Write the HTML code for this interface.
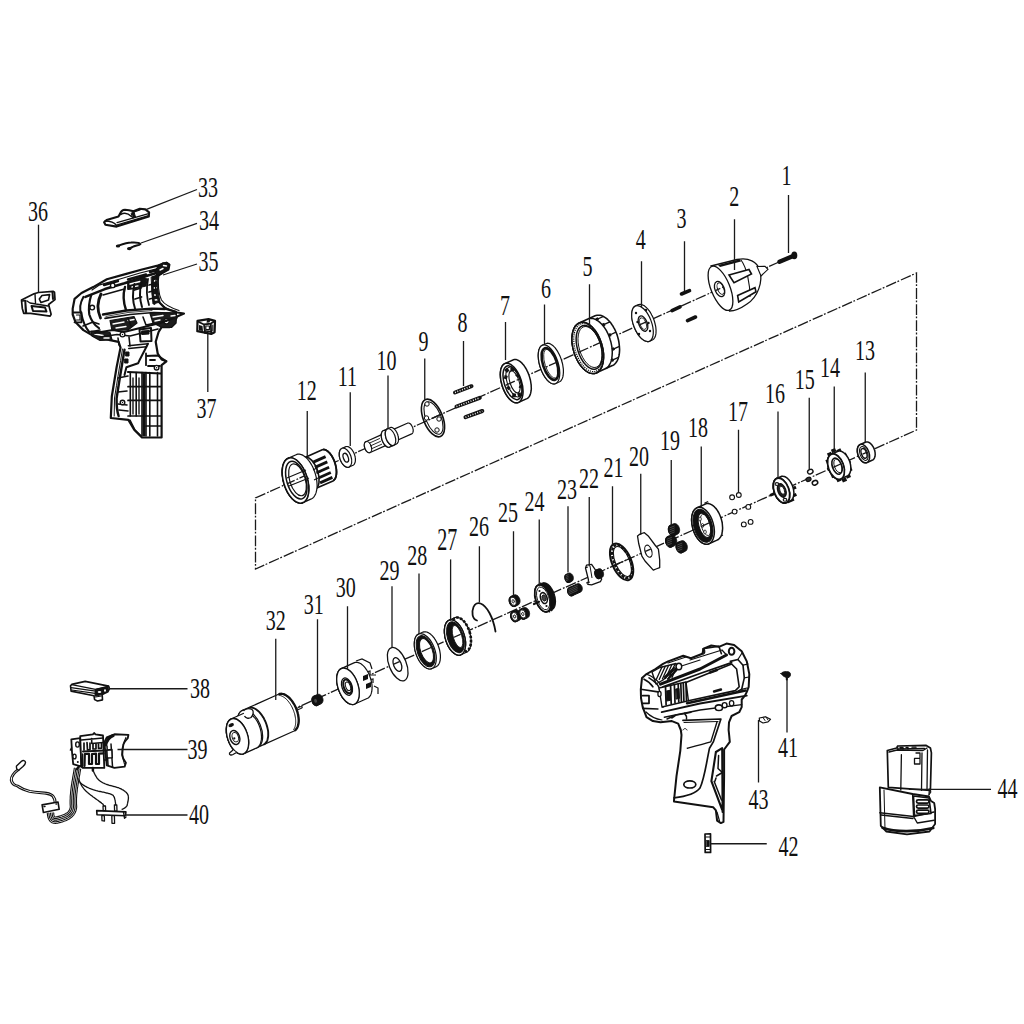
<!DOCTYPE html><html><head><meta charset="utf-8"><style>html,body{margin:0;padding:0;background:#fff;width:1024px;height:1024px;overflow:hidden}svg{display:block}text{font-family:"Liberation Serif",serif;fill:#111}</style></head><body>
<svg width="1024" height="1024" viewBox="0 0 1024 1024">
<rect width="1024" height="1024" fill="#fff"/>
<g fill="none" stroke="#1a1a1a" stroke-width="1.3" stroke-dasharray="10.8 1.5 1.8 2">
<path d="M779,262 L255.5,498 L255.5,569 L916.5,273 L916.5,430 L296,708"/>
</g>
<g><path d="M300.8,466.4 L300.9,465.4 L300.9,464.5 L301,463.6 L301.2,462.7 L301.4,461.9 L301.6,461.2 L301.9,460.5 L302.2,459.8 L302.6,459.3 L303,458.8 L303.4,458.3 L303.9,458 L304.4,457.7 L321.7,449.9 L322.2,449.7 L322.8,449.6 L323.3,449.5 L323.9,449.5 L324.5,449.6 L325.1,449.8 L325.8,450 L326.4,450.4 L327,450.8 L327.7,451.2 L328.3,451.8 L329,452.4 L329.6,453 L330.2,453.8 L330.8,454.6 L331.4,455.4 L331.9,456.3 L332.5,457.2 L333,458.2 L333.5,459.2 L333.9,460.2 L334.4,461.3 L334.8,462.4 L335.1,463.5 L335.4,464.6 L335.7,465.7 L336,466.8 L336.1,467.9 L336.3,469 L336.4,470 L336.5,471.1 L336.5,472.1 L336.5,473.1 L336.4,474 L336.3,475 L336.1,475.8 L335.9,476.6 L335.7,477.4 L335.4,478.1 L335.1,478.7 L334.7,479.3 L334.3,479.8 L333.9,480.2 L333.4,480.6 L333,480.9 L315.6,488.6 L315.1,488.8 L314.6,489 L314,489 L313.4,489 L312.8,488.9 L312.2,488.7 L311.6,488.5 L310.9,488.2 L310.3,487.8 L309.7,487.3 L309,486.8 L308.4,486.2 L307.8,485.5 L307.1,484.8 L306.5,484 L306,483.1 L305.4,482.3 L304.9,481.3 L304.3,480.4 L303.9,479.4 L303.4,478.3 L303,477.3 L302.6,476.2 L302.2,475.1 L301.9,474 L301.6,472.9 L301.4,471.8 L301.2,470.7 L301,469.6 L300.9,468.5 L300.9,467.5Z" fill="#fff" stroke="#111" stroke-width="1.6" stroke-linejoin="round"/><ellipse cx="310" cy="473.2" rx="8" ry="16.5" transform="rotate(-18 310 473.2)" fill="#fff" stroke="#111" stroke-width="1.6" /><line x1="313.3" y1="462.1" x2="325.6" y2="456.6" stroke="#111" stroke-width="2.8"/><line x1="315" y1="467.4" x2="327.3" y2="461.9" stroke="#111" stroke-width="2.8"/><line x1="316.7" y1="472.7" x2="329.1" y2="467.2" stroke="#111" stroke-width="2.8"/><line x1="318.5" y1="478.1" x2="330.8" y2="472.5" stroke="#111" stroke-width="2.8"/><line x1="320.1" y1="482.9" x2="332.4" y2="477.4" stroke="#111" stroke-width="2.8"/><path d="M333.7,480.4 L334.1,480 L334.5,479.5 L334.9,479 L335.3,478.4 L335.6,477.7 L335.8,477 L336,476.2 L336.2,475.4 L336.4,474.5 L336.4,473.6 L336.5,472.6 L336.5,471.6 L336.4,470.6 L336.4,469.5 L336.2,468.4 L336.1,467.3 L335.8,466.2 L335.6,465.1 L335.3,464 L334.9,462.9 L334.6,461.8 L334.2,460.7 L333.7,459.7 L333.2,458.7 L332.7,457.7 L332.2,456.7 L331.7,455.8 L331.1,455 L330.5,454.2 L329.9,453.4 L329.3,452.7 L328.6,452.1 L328,451.5 L327.4,451 L326.7,450.6 L326.1,450.2 L325.5,449.9 L324.8,449.7 L324.2,449.6 L323.6,449.5" fill="none" stroke="#111" stroke-width="1.8" stroke-linecap="round"/><path d="M282.1,472.3 L282.2,470.9 L282.2,469.5 L282.4,468.1 L282.6,466.8 L282.9,465.6 L283.2,464.5 L283.6,463.4 L284.1,462.4 L284.6,461.5 L285.1,460.7 L285.8,460 L286.4,459.3 L287.1,458.8 L287.9,458.4 L296.1,454.7 L296.9,454.4 L297.7,454.2 L298.5,454.2 L299.4,454.2 L300.3,454.3 L301.2,454.6 L302.1,454.9 L303.1,455.4 L304,456 L304.9,456.7 L305.8,457.4 L306.8,458.3 L307.7,459.2 L308.5,460.3 L309.4,461.4 L310.2,462.6 L311,463.9 L311.8,465.2 L312.5,466.6 L313.2,468 L313.8,469.5 L314.4,471 L314.9,472.5 L315.4,474.1 L315.8,475.7 L316.2,477.2 L316.5,478.8 L316.7,480.4 L316.9,481.9 L317,483.5 L317.1,485 L317.1,486.4 L317,487.8 L316.8,489.2 L316.6,490.5 L316.3,491.7 L316,492.9 L315.6,493.9 L315.1,494.9 L314.6,495.8 L314.1,496.6 L313.5,497.4 L312.8,498 L312.1,498.5 L311.3,498.9 L303.1,502.6 L302.3,502.9 L301.5,503.1 L300.7,503.1 L299.8,503.1 L298.9,503 L298,502.7 L297.1,502.4 L296.2,501.9 L295.2,501.3 L294.3,500.7 L293.4,499.9 L292.4,499 L291.5,498.1 L290.7,497 L289.8,495.9 L289,494.7 L288.2,493.5 L287.4,492.1 L286.7,490.8 L286,489.3 L285.4,487.8 L284.8,486.3 L284.3,484.8 L283.8,483.2 L283.4,481.7 L283,480.1 L282.7,478.5 L282.5,476.9 L282.3,475.4 L282.2,473.8Z" fill="#fff" stroke="#111" stroke-width="1.2" stroke-linejoin="round"/><ellipse cx="295.5" cy="480.5" rx="12" ry="23.4" transform="rotate(-17 295.5 480.5)" fill="#fff" stroke="#111" stroke-width="1.2" /><ellipse cx="295.5" cy="480.5" rx="12" ry="23.4" transform="rotate(-17 295.5 480.5)" fill="#fff" stroke="#111" stroke-width="1.6" /><ellipse cx="296.3" cy="480.2" rx="9.5" ry="19.5" transform="rotate(-17 296.3 480.2)" fill="none" stroke="#111" stroke-width="1.5" /><ellipse cx="297.5" cy="479.8" rx="7.8" ry="16.5" transform="rotate(-17 297.5 479.8)" fill="none" stroke="#111" stroke-width="1.2" /><path d="M287,478 L306,470 M289,486 L309,478" stroke="#111" stroke-width="1.1" fill="none"/><path d="M313,470 l4,-2 l0,5 l4,-1.5 M314,480 l4,-2" stroke="#111" stroke-width="1.1" fill="none"/></g>
<path d="M339.2,454.1 L339.2,453.5 L339.3,452.9 L339.4,452.3 L339.5,451.8 L339.6,451.3 L339.8,450.8 L340,450.3 L340.2,449.9 L340.5,449.6 L340.8,449.2 L341.1,448.9 L341.4,448.7 L341.7,448.5 L345.4,446.9 L345.7,446.7 L346.1,446.6 L346.5,446.5 L346.9,446.5 L347.3,446.5 L347.7,446.6 L348.2,446.7 L348.6,446.9 L349,447.1 L349.5,447.4 L349.9,447.7 L350.3,448 L350.8,448.4 L351.2,448.8 L351.6,449.3 L352,449.7 L352.4,450.3 L352.7,450.8 L353.1,451.4 L353.4,452 L353.7,452.6 L354,453.2 L354.3,453.9 L354.5,454.5 L354.7,455.2 L354.9,455.8 L355.1,456.5 L355.2,457.2 L355.3,457.8 L355.4,458.5 L355.4,459.1 L355.4,459.8 L355.4,460.4 L355.3,461 L355.3,461.5 L355.2,462.1 L355,462.6 L354.8,463.1 L354.6,463.5 L354.4,463.9 L354.2,464.3 L353.9,464.6 L353.6,464.9 L353.3,465.1 L352.9,465.3 L349.3,467 L348.9,467.1 L348.5,467.2 L348.2,467.3 L347.8,467.3 L347.3,467.3 L346.9,467.2 L346.5,467.1 L346,466.9 L345.6,466.7 L345.2,466.5 L344.7,466.2 L344.3,465.8 L343.9,465.4 L343.5,465 L343,464.6 L342.7,464.1 L342.3,463.6 L341.9,463 L341.6,462.5 L341.2,461.9 L340.9,461.3 L340.6,460.6 L340.4,460 L340.1,459.3 L339.9,458.7 L339.7,458 L339.6,457.3 L339.4,456.7 L339.3,456 L339.3,455.3 L339.2,454.7Z" fill="#fff" stroke="#111" stroke-width="1.2" stroke-linejoin="round"/><ellipse cx="345.5" cy="457.7" rx="5.6" ry="10" transform="rotate(-20 345.5 457.7)" fill="#fff" stroke="#111" stroke-width="1.2" /><ellipse cx="345.8" cy="457.7" rx="2.4" ry="4.6" transform="rotate(-20 345.8 457.7)" fill="#fff" stroke="#111" stroke-width="1.3" />
<path d="M364.3,445 L364.3,444.7 L364.4,444.3 L364.4,444 L364.5,443.7 L364.6,443.4 L364.7,443.1 L364.8,442.9 L364.9,442.6 L365.1,442.4 L365.2,442.2 L365.4,442 L365.6,441.9 L365.8,441.8 L382.2,434.4 L382.4,434.3 L382.7,434.3 L382.9,434.2 L383.1,434.2 L383.4,434.2 L383.6,434.3 L383.9,434.3 L384.1,434.4 L384.4,434.6 L384.6,434.7 L384.9,434.9 L385.2,435.1 L385.4,435.3 L385.6,435.5 L385.9,435.8 L386.1,436.1 L386.3,436.4 L386.6,436.7 L386.8,437 L387,437.4 L387.1,437.7 L387.3,438.1 L387.5,438.5 L387.6,438.8 L387.7,439.2 L387.8,439.6 L387.9,440 L388,440.4 L388,440.8 L388.1,441.2 L388.1,441.5 L388.1,441.9 L388.1,442.2 L388.1,442.6 L388,442.9 L387.9,443.2 L387.9,443.5 L387.7,443.8 L387.6,444.1 L387.5,444.3 L387.3,444.5 L387.2,444.7 L387,444.9 L386.8,445 L386.6,445.1 L370.2,452.5 L370,452.6 L369.8,452.7 L369.5,452.7 L369.3,452.7 L369.1,452.7 L368.8,452.7 L368.6,452.6 L368.3,452.5 L368,452.4 L367.8,452.2 L367.5,452 L367.3,451.8 L367,451.6 L366.8,451.4 L366.5,451.1 L366.3,450.8 L366.1,450.5 L365.9,450.2 L365.7,449.9 L365.5,449.6 L365.3,449.2 L365.1,448.8 L365,448.5 L364.8,448.1 L364.7,447.7 L364.6,447.3 L364.5,446.9 L364.4,446.5 L364.4,446.1 L364.3,445.8 L364.3,445.4Z" fill="#fff" stroke="#111" stroke-width="1.2" stroke-linejoin="round"/><ellipse cx="368" cy="447.1" rx="3.3" ry="5.8" transform="rotate(-20 368 447.1)" fill="#fff" stroke="#111" stroke-width="1.2" /><line x1="369" y1="443.3" x2="379.9" y2="438.4" stroke="#111" stroke-width="0.9"/><line x1="370" y1="446.1" x2="380.9" y2="441.2" stroke="#111" stroke-width="0.9"/><line x1="371" y1="449" x2="382" y2="444.1" stroke="#111" stroke-width="0.9"/><path d="M390.3,433.4 L390.3,433 L390.4,432.7 L390.4,432.3 L390.5,432 L390.6,431.7 L390.7,431.5 L390.8,431.2 L390.9,431 L391.1,430.7 L391.2,430.6 L391.4,430.4 L391.6,430.2 L391.8,430.1 L407.3,423.2 L407.5,423.1 L407.7,423 L408,423 L408.2,423 L408.5,423 L408.7,423 L409,423.1 L409.2,423.2 L409.5,423.3 L409.7,423.5 L410,423.6 L410.2,423.8 L410.5,424 L410.7,424.3 L411,424.5 L411.2,424.8 L411.4,425.1 L411.6,425.4 L411.8,425.8 L412,426.1 L412.2,426.5 L412.4,426.8 L412.5,427.2 L412.7,427.6 L412.8,428 L412.9,428.4 L413,428.7 L413.1,429.1 L413.1,429.5 L413.2,429.9 L413.2,430.3 L413.2,430.6 L413.2,431 L413.1,431.3 L413.1,431.7 L413,432 L412.9,432.3 L412.8,432.5 L412.7,432.8 L412.6,433 L412.4,433.3 L412.3,433.5 L412.1,433.6 L411.9,433.8 L411.7,433.9 L396.2,440.8 L396,440.9 L395.8,441 L395.5,441 L395.3,441 L395.1,441 L394.8,441 L394.6,440.9 L394.3,440.8 L394,440.7 L393.8,440.6 L393.5,440.4 L393.3,440.2 L393,440 L392.8,439.7 L392.5,439.5 L392.3,439.2 L392.1,438.9 L391.9,438.6 L391.7,438.2 L391.5,437.9 L391.3,437.5 L391.1,437.2 L391,436.8 L390.8,436.4 L390.7,436 L390.6,435.6 L390.5,435.3 L390.4,434.9 L390.4,434.5 L390.3,434.1 L390.3,433.7Z" fill="#fff" stroke="#111" stroke-width="1.2" stroke-linejoin="round"/><ellipse cx="394" cy="435.5" rx="3.3" ry="5.8" transform="rotate(-20 394 435.5)" fill="#fff" stroke="#111" stroke-width="1.2" /><path d="M381.2,435.5 L381.2,435 L381.3,434.5 L381.3,434 L381.4,433.5 L381.5,433.1 L381.7,432.7 L381.8,432.3 L382,431.9 L382.2,431.6 L382.4,431.3 L382.7,431.1 L382.9,430.9 L383.2,430.7 L386.4,429.3 L386.7,429.1 L387,429.1 L387.3,429 L387.6,429 L388,429 L388.3,429.1 L388.7,429.2 L389.1,429.4 L389.4,429.6 L389.8,429.8 L390.2,430.1 L390.5,430.4 L390.9,430.7 L391.2,431.1 L391.6,431.5 L391.9,431.9 L392.3,432.4 L392.6,432.9 L392.9,433.4 L393.2,433.9 L393.4,434.4 L393.7,435 L393.9,435.6 L394.1,436.1 L394.3,436.7 L394.5,437.3 L394.6,437.9 L394.7,438.5 L394.8,439.1 L394.9,439.6 L394.9,440.2 L395,440.7 L395,441.3 L394.9,441.8 L394.9,442.3 L394.8,442.7 L394.7,443.2 L394.5,443.6 L394.4,444 L394.2,444.3 L394,444.6 L393.8,444.9 L393.5,445.2 L393.3,445.4 L393,445.6 L389.8,447 L389.5,447.1 L389.2,447.2 L388.9,447.3 L388.5,447.3 L388.2,447.2 L387.8,447.2 L387.5,447 L387.1,446.9 L386.8,446.7 L386.4,446.5 L386,446.2 L385.7,445.9 L385.3,445.5 L384.9,445.2 L384.6,444.8 L384.3,444.3 L383.9,443.9 L383.6,443.4 L383.3,442.9 L383,442.4 L382.8,441.8 L382.5,441.3 L382.3,440.7 L382.1,440.1 L381.9,439.5 L381.7,439 L381.6,438.4 L381.5,437.8 L381.4,437.2 L381.3,436.6 L381.3,436.1Z" fill="#fff" stroke="#111" stroke-width="1.2" stroke-linejoin="round"/><ellipse cx="386.5" cy="438.8" rx="4.6" ry="8.8" transform="rotate(-20 386.5 438.8)" fill="#fff" stroke="#111" stroke-width="1.2" /><path d="M385.2,433.7 L385.2,433.2 L385.3,432.7 L385.3,432.2 L385.4,431.7 L385.5,431.3 L385.7,430.9 L385.8,430.5 L386,430.1 L386.2,429.8 L386.4,429.5 L386.7,429.3 L386.9,429.1 L387.2,428.9 L389.9,427.7 L390.2,427.6 L390.5,427.5 L390.9,427.4 L391.2,427.4 L391.5,427.4 L391.9,427.5 L392.2,427.6 L392.6,427.8 L393,428 L393.3,428.2 L393.7,428.5 L394.1,428.8 L394.4,429.1 L394.8,429.5 L395.1,429.9 L395.5,430.3 L395.8,430.8 L396.1,431.3 L396.4,431.8 L396.7,432.3 L397,432.8 L397.2,433.4 L397.5,434 L397.7,434.5 L397.9,435.1 L398,435.7 L398.2,436.3 L398.3,436.9 L398.4,437.5 L398.4,438 L398.5,438.6 L398.5,439.1 L398.5,439.7 L398.5,440.2 L398.4,440.7 L398.3,441.1 L398.2,441.6 L398.1,442 L397.9,442.4 L397.7,442.7 L397.5,443.1 L397.3,443.3 L397.1,443.6 L396.8,443.8 L396.5,444 L393.8,445.2 L393.5,445.3 L393.2,445.4 L392.9,445.5 L392.5,445.5 L392.2,445.4 L391.8,445.4 L391.5,445.2 L391.1,445.1 L390.8,444.9 L390.4,444.7 L390,444.4 L389.7,444.1 L389.3,443.8 L388.9,443.4 L388.6,443 L388.3,442.5 L387.9,442.1 L387.6,441.6 L387.3,441.1 L387,440.6 L386.8,440 L386.5,439.5 L386.3,438.9 L386.1,438.3 L385.9,437.8 L385.7,437.2 L385.6,436.6 L385.5,436 L385.4,435.4 L385.3,434.8 L385.3,434.3Z" fill="#fff" stroke="#111" stroke-width="1.2" stroke-linejoin="round"/><ellipse cx="390.5" cy="437.1" rx="4.6" ry="8.8" transform="rotate(-20 390.5 437.1)" fill="#fff" stroke="#111" stroke-width="1.2" />
<ellipse cx="433" cy="418" rx="9.6" ry="19.9" transform="rotate(-22 433 418)" fill="none" stroke="#111" stroke-width="1.6" /><ellipse cx="433.5" cy="418" rx="7.6" ry="17.2" transform="rotate(-22 433.5 418)" fill="none" stroke="#111" stroke-width="1.1" /><circle cx="427" cy="404" r="2.2" fill="#fff" stroke="#111" stroke-width="1"/><circle cx="437" cy="430" r="2.2" fill="#fff" stroke="#111" stroke-width="1"/><circle cx="426.5" cy="418" r="2.2" fill="#fff" stroke="#111" stroke-width="1"/><circle cx="439" cy="419" r="2.2" fill="#fff" stroke="#111" stroke-width="1"/>
<line x1="455" y1="392.5" x2="471.5" y2="386.2" stroke="#111" stroke-width="4" stroke-linecap="round"/><line x1="455" y1="392.5" x2="471.5" y2="386.2" stroke="#fff" stroke-width="1.6" stroke-dasharray="0.9 1.6"/><line x1="456.5" y1="406.5" x2="479.8" y2="397.8" stroke="#111" stroke-width="4" stroke-linecap="round"/><line x1="456.5" y1="406.5" x2="479.8" y2="397.8" stroke="#fff" stroke-width="1.6" stroke-dasharray="0.9 1.6"/><line x1="465.5" y1="417.2" x2="482.3" y2="411" stroke="#111" stroke-width="4" stroke-linecap="round"/><line x1="465.5" y1="417.2" x2="482.3" y2="411" stroke="#fff" stroke-width="1.6" stroke-dasharray="0.9 1.6"/>
<path d="M500.3,374.6 L500.4,373.3 L500.4,372.2 L500.6,371 L500.8,370 L501,368.9 L501.3,368 L501.7,367.1 L502.1,366.3 L502.5,365.6 L503,365 L503.5,364.5 L504.1,364 L504.7,363.7 L512.9,360 L513.5,359.7 L514.2,359.6 L514.9,359.5 L515.6,359.5 L516.4,359.6 L517.2,359.9 L517.9,360.2 L518.7,360.6 L519.5,361.1 L520.3,361.7 L521.1,362.3 L521.9,363.1 L522.6,363.9 L523.4,364.8 L524.2,365.8 L524.9,366.9 L525.6,368 L526.3,369.1 L526.9,370.4 L527.5,371.6 L528.1,372.9 L528.6,374.2 L529.1,375.6 L529.5,376.9 L529.9,378.3 L530.3,379.7 L530.6,381.1 L530.8,382.5 L531,383.8 L531.2,385.2 L531.2,386.5 L531.3,387.7 L531.3,389 L531.2,390.2 L531,391.3 L530.8,392.4 L530.6,393.4 L530.3,394.3 L530,395.2 L529.6,396 L529.1,396.7 L528.6,397.3 L528.1,397.8 L527.5,398.3 L526.9,398.6 L518.7,402.3 L518.1,402.6 L517.4,402.8 L516.7,402.8 L516,402.8 L515.2,402.7 L514.5,402.5 L513.7,402.1 L512.9,401.7 L512.1,401.2 L511.3,400.6 L510.5,400 L509.7,399.2 L509,398.4 L508.2,397.5 L507.5,396.5 L506.7,395.4 L506,394.3 L505.4,393.2 L504.7,392 L504.1,390.7 L503.5,389.4 L503,388.1 L502.5,386.7 L502.1,385.4 L501.7,384 L501.3,382.6 L501,381.2 L500.8,379.9 L500.6,378.5 L500.4,377.2 L500.4,375.9Z" fill="#fff" stroke="#111" stroke-width="1.5" stroke-linejoin="round"/><ellipse cx="511.7" cy="383" rx="9.9" ry="20.6" transform="rotate(-18 511.7 383)" fill="#fff" stroke="#111" stroke-width="1.5" /><ellipse cx="512.5" cy="382.7" rx="8.2" ry="17.6" transform="rotate(-18 512.5 382.7)" fill="#fff" stroke="#111" stroke-width="1.5" /><ellipse cx="514" cy="382" rx="6.8" ry="15.6" transform="rotate(-18 514 382)" fill="none" stroke="#111" stroke-width="1.1" /><line x1="505.6" y1="368.7" x2="508.2" y2="371.7" stroke="#111" stroke-width="3.6"/><line x1="504.2" y1="376.8" x2="507.3" y2="377.7" stroke="#111" stroke-width="3.6"/><line x1="507.3" y1="388.8" x2="509.7" y2="386.9" stroke="#111" stroke-width="3.6"/><line x1="513.7" y1="397.3" x2="514.4" y2="393.4" stroke="#111" stroke-width="3.6"/><line x1="520" y1="396.5" x2="518.8" y2="392.9" stroke="#111" stroke-width="3.6"/><line x1="521.3" y1="387.1" x2="519.6" y2="385.9" stroke="#111" stroke-width="3.6"/><line x1="517.7" y1="375.1" x2="516.8" y2="376.7" stroke="#111" stroke-width="3.6"/><line x1="511.9" y1="367.9" x2="512.6" y2="371.2" stroke="#111" stroke-width="3.6"/><ellipse cx="514.5" cy="381.8" rx="4.6" ry="11.5" transform="rotate(-18 514.5 381.8)" fill="none" stroke="#111" stroke-width="1.1" />
<path d="M538.2,356 L538.2,354.8 L538.3,353.6 L538.4,352.5 L538.6,351.4 L538.8,350.5 L539,349.5 L539.4,348.7 L539.7,347.9 L540.1,347.2 L540.6,346.6 L541,346.1 L541.6,345.7 L542.1,345.3 L545.8,343.7 L546.4,343.5 L547,343.3 L547.7,343.2 L548.3,343.3 L549,343.4 L549.7,343.6 L550.5,344 L551.2,344.4 L552,344.9 L552.7,345.5 L553.5,346.1 L554.2,346.9 L555,347.7 L555.7,348.6 L556.4,349.6 L557.1,350.6 L557.8,351.7 L558.4,352.9 L559,354.1 L559.6,355.3 L560.2,356.6 L560.7,357.9 L561.2,359.2 L561.6,360.6 L562,362 L562.4,363.3 L562.7,364.7 L562.9,366 L563.1,367.4 L563.3,368.7 L563.4,370 L563.4,371.2 L563.4,372.4 L563.3,373.6 L563.2,374.7 L563.1,375.7 L562.9,376.7 L562.6,377.6 L562.3,378.5 L561.9,379.2 L561.5,379.9 L561.1,380.5 L560.6,381.1 L560.1,381.5 L559.5,381.8 L555.9,383.5 L555.3,383.7 L554.6,383.9 L554,383.9 L553.3,383.9 L552.6,383.7 L551.9,383.5 L551.2,383.2 L550.4,382.8 L549.7,382.3 L548.9,381.7 L548.2,381 L547.4,380.3 L546.7,379.4 L546,378.5 L545.3,377.6 L544.6,376.5 L543.9,375.4 L543.2,374.3 L542.6,373.1 L542,371.8 L541.5,370.6 L541,369.2 L540.5,367.9 L540,366.6 L539.6,365.2 L539.3,363.8 L539,362.5 L538.7,361.1 L538.5,359.8 L538.4,358.5 L538.3,357.2Z" fill="#fff" stroke="#111" stroke-width="1.2" stroke-linejoin="round"/><ellipse cx="549" cy="364.4" rx="9.2" ry="20.3" transform="rotate(-18 549 364.4)" fill="#fff" stroke="#111" stroke-width="1.2" /><ellipse cx="550" cy="364" rx="7" ry="16.5" transform="rotate(-18 550 364)" fill="#fff" stroke="#111" stroke-width="2.6" /><ellipse cx="551.2" cy="363.6" rx="6.2" ry="15.2" transform="rotate(-18 551.2 363.6)" fill="none" stroke="#111" stroke-width="0.8" />
<path d="M572,338.9 L572.1,337.3 L572.2,335.7 L572.4,334.1 L572.7,332.7 L573,331.3 L573.5,329.9 L574,328.7 L574.5,327.6 L575.1,326.5 L575.8,325.6 L576.6,324.8 L577.4,324.1 L578.2,323.5 L579.1,323 L595.1,315.8 L596,315.5 L597,315.3 L598,315.2 L599.1,315.2 L600.1,315.3 L601.2,315.6 L602.3,316 L603.4,316.5 L604.5,317.1 L605.6,317.8 L606.7,318.7 L607.8,319.7 L608.8,320.7 L609.9,321.9 L610.9,323.1 L611.8,324.5 L612.8,325.9 L613.6,327.4 L614.5,328.9 L615.3,330.5 L616,332.2 L616.7,333.9 L617.3,335.6 L617.8,337.4 L618.3,339.2 L618.7,341 L619,342.8 L619.2,344.5 L619.4,346.3 L619.5,348 L619.6,349.7 L619.5,351.4 L619.4,353 L619.2,354.5 L618.9,356 L618.5,357.4 L618.1,358.7 L617.6,359.9 L617,361.1 L616.4,362.1 L615.7,363 L615,363.8 L614.2,364.6 L613.3,365.2 L612.4,365.6 L596.5,372.8 L595.5,373.1 L594.5,373.4 L593.5,373.5 L592.5,373.5 L591.4,373.3 L590.3,373.1 L589.3,372.7 L588.2,372.2 L587,371.5 L586,370.8 L584.9,369.9 L583.8,369 L582.7,367.9 L581.7,366.8 L580.7,365.5 L579.7,364.2 L578.8,362.8 L577.9,361.3 L577.1,359.7 L576.3,358.1 L575.6,356.4 L574.9,354.7 L574.3,353 L573.8,351.2 L573.3,349.4 L572.9,347.7 L572.6,345.9 L572.3,344.1 L572.1,342.3 L572,340.6Z" fill="#fff" stroke="#111" stroke-width="1.6" stroke-linejoin="round"/><ellipse cx="587.8" cy="347.9" rx="14.4" ry="26.4" transform="rotate(-17 587.8 347.9)" fill="#fff" stroke="#111" stroke-width="1.6" /><path d="M606,368.4 L606.9,367.8 L607.7,367.1 L608.5,366.2 L609.2,365.3 L609.8,364.2 L610.4,363 L610.9,361.7 L611.3,360.4 L611.7,358.9 L611.9,357.4 L612.1,355.8 L612.2,354.1 L612.3,352.4 L612.2,350.7 L612.1,348.9 L611.9,347.1 L611.6,345.3 L611.2,343.4 L610.8,341.6 L610.2,339.8 L609.7,338 L609,336.2 L608.3,334.5 L607.5,332.8 L606.7,331.2 L605.8,329.7 L604.8,328.2 L603.9,326.8 L602.8,325.5 L601.8,324.3 L600.7,323.2 L599.6,322.1 L598.5,321.3 L597.4,320.5 L596.3,319.8 L595.1,319.3 L594,318.9 L592.9,318.6 L591.8,318.4 L590.7,318.4" fill="none" stroke="#111" stroke-width="1.5" stroke-linecap="round"/><line x1="611.2" y1="360.6" x2="618.5" y2="357.4" stroke="#111" stroke-width="1.3"/><line x1="611.2" y1="360.6" x2="613.5" y2="359.6" stroke="#111" stroke-width="3"/><line x1="612.1" y1="349.6" x2="619.4" y2="346.3" stroke="#111" stroke-width="1.3"/><line x1="612.1" y1="349.6" x2="614.4" y2="348.5" stroke="#111" stroke-width="3"/><line x1="608.7" y1="335.5" x2="616" y2="332.2" stroke="#111" stroke-width="1.3"/><line x1="608.7" y1="335.5" x2="611" y2="334.5" stroke="#111" stroke-width="3"/><line x1="602.6" y1="325.2" x2="609.9" y2="321.9" stroke="#111" stroke-width="1.3"/><line x1="602.6" y1="325.2" x2="604.8" y2="324.1" stroke="#111" stroke-width="3"/><line x1="596.1" y1="319.7" x2="603.4" y2="316.5" stroke="#111" stroke-width="1.3"/><line x1="596.1" y1="319.7" x2="598.4" y2="318.7" stroke="#111" stroke-width="3"/><ellipse cx="587.8" cy="347.9" rx="14.4" ry="26.4" transform="rotate(-17 587.8 347.9)" fill="#fff" stroke="#111" stroke-width="1.6" /><ellipse cx="588.4" cy="347.6" rx="13.3" ry="24.8" transform="rotate(-17 588.4 347.6)" fill="none" stroke="#111" stroke-width="1.2" stroke-dasharray="1.2 1"/><ellipse cx="589.2" cy="347.3" rx="11.8" ry="22.6" transform="rotate(-17 589.2 347.3)" fill="#fff" stroke="#111" stroke-width="1.5" /><ellipse cx="590" cy="347" rx="10.8" ry="21.2" transform="rotate(-17 590 347)" fill="none" stroke="#111" stroke-width="0.9" />
<path d="M631.7,315.2 L631.7,314.1 L631.8,313.1 L631.9,312.1 L632.1,311.1 L632.3,310.3 L632.5,309.5 L632.9,308.7 L633.2,308 L633.6,307.4 L634.1,306.9 L634.6,306.5 L635.1,306.1 L635.7,305.9 L638.4,304.6 L639,304.5 L639.7,304.4 L640.3,304.4 L641,304.4 L641.7,304.6 L642.4,304.9 L643.2,305.2 L643.9,305.6 L644.7,306.1 L645.4,306.7 L646.2,307.4 L646.9,308.1 L647.7,308.9 L648.4,309.8 L649.1,310.7 L649.8,311.7 L650.5,312.7 L651.1,313.8 L651.7,315 L652.3,316.1 L652.9,317.3 L653.4,318.5 L653.9,319.8 L654.3,321 L654.7,322.3 L655,323.5 L655.3,324.8 L655.6,326 L655.8,327.2 L655.9,328.4 L656,329.6 L656.1,330.8 L656,331.8 L656,332.9 L655.9,333.9 L655.7,334.8 L655.5,335.7 L655.2,336.5 L654.9,337.3 L654.5,337.9 L654.1,338.5 L653.6,339.1 L653.1,339.5 L652.6,339.8 L652,340.1 L649.3,341.3 L648.7,341.5 L648.1,341.6 L647.4,341.6 L646.7,341.5 L646,341.4 L645.3,341.1 L644.6,340.8 L643.8,340.4 L643.1,339.8 L642.3,339.3 L641.6,338.6 L640.8,337.9 L640.1,337.1 L639.3,336.2 L638.6,335.3 L637.9,334.3 L637.3,333.2 L636.6,332.1 L636,331 L635.4,329.9 L634.9,328.7 L634.3,327.4 L633.9,326.2 L633.4,325 L633,323.7 L632.7,322.4 L632.4,321.2 L632.2,319.9 L632,318.7 L631.8,317.5 L631.7,316.4Z" fill="#fff" stroke="#111" stroke-width="1.2" stroke-linejoin="round"/><ellipse cx="642.5" cy="323.6" rx="9" ry="19" transform="rotate(-21 642.5 323.6)" fill="#fff" stroke="#111" stroke-width="1.2" /><ellipse cx="643" cy="323.6" rx="4.2" ry="8" transform="rotate(-21 643 323.6)" fill="none" stroke="#111" stroke-width="1.3" /><ellipse cx="643" cy="323.6" rx="3" ry="6" transform="rotate(-21 643 323.6)" fill="none" stroke="#111" stroke-width="0.9" /><circle cx="636" cy="313" r="1.2" fill="#111"/><circle cx="646" cy="310" r="1.2" fill="#111"/><circle cx="639" cy="334" r="1.2" fill="#111"/><circle cx="650" cy="331" r="1.2" fill="#111"/><circle cx="637.5" cy="322" r="1.2" fill="#111"/><circle cx="648.5" cy="323" r="1.2" fill="#111"/>
<line x1="681.5" y1="294" x2="689.5" y2="290.6" stroke="#111" stroke-width="3.6" stroke-linecap="round"/><line x1="672" y1="310.6" x2="680" y2="306.8" stroke="#111" stroke-width="3.6" stroke-linecap="round"/><line x1="687.5" y1="320.6" x2="695.5" y2="317" stroke="#111" stroke-width="3.6" stroke-linecap="round"/>
<path d="M711,266 L737,259.5 C749,257 757,262 760,270 C763,282 758,297 747,304 C740,309 733,311 729.5,311 Z" fill="#fff" stroke="#111" stroke-width="1.3"/><path d="M757,266.5 L765,266.3 L768,269.3 L761,276 Z" fill="#fff" stroke="#111" stroke-width="1.1"/><path d="M741,260 C747,268 750,284 750,297" fill="none" stroke="#111" stroke-width="1.1"/><path d="M729,275 L749,269.5 L751.5,274 L734,282.7 Z" fill="#fff" stroke="#111" stroke-width="1.6"/><path d="M737.6,295.4 L755,287.7 L756,291.8 L738.7,302 Z" fill="#fff" stroke="#111" stroke-width="1.6"/><path d="M718,265 L740,259.3 L741,261.5 L720,267 Z" fill="#111"/><ellipse cx="720.5" cy="288.3" rx="9.4" ry="23.5" transform="rotate(-22 720.5 288.3)" fill="#fff" stroke="#111" stroke-width="1.3" /><ellipse cx="719.6" cy="289" rx="4.6" ry="8" transform="rotate(-22 719.6 289)" fill="#fff" stroke="#111" stroke-width="1.3" /><ellipse cx="720.6" cy="288.6" rx="3" ry="6" transform="rotate(-22 720.6 288.6)" fill="none" stroke="#111" stroke-width="0.9" />
<line x1="779.5" y1="261.8" x2="792" y2="256.4" stroke="#111" stroke-width="4.4" stroke-linecap="round"/><ellipse cx="794.3" cy="255.4" rx="3" ry="3.8" fill="#111"/>
<path d="M857.3,450.7 L857.3,450.1 L857.3,449.6 L857.4,449 L857.5,448.4 L857.6,447.9 L857.8,447.4 L857.9,447 L858.1,446.5 L858.4,446.1 L858.6,445.8 L858.9,445.5 L859.2,445.2 L859.5,444.9 L859.9,444.7 L865.3,442.3 L865.7,442.1 L866.1,442 L866.5,441.9 L866.9,441.9 L867.3,441.9 L867.7,442 L868.1,442.1 L868.5,442.3 L869,442.5 L869.4,442.7 L869.8,443 L870.3,443.3 L870.7,443.7 L871.1,444.1 L871.5,444.5 L871.9,445 L872.3,445.5 L872.6,446 L873,446.5 L873.3,447.1 L873.6,447.7 L873.9,448.3 L874.1,448.9 L874.3,449.5 L874.6,450.2 L874.7,450.8 L874.9,451.5 L875,452.1 L875.1,452.7 L875.1,453.4 L875.2,454 L875.2,454.6 L875.1,455.2 L875.1,455.8 L875,456.3 L874.9,456.8 L874.7,457.3 L874.5,457.8 L874.3,458.2 L874.1,458.6 L873.9,459 L873.6,459.3 L873.3,459.6 L873,459.8 L872.6,460 L867.1,462.5 L866.8,462.6 L866.4,462.7 L866,462.8 L865.6,462.8 L865.2,462.8 L864.8,462.7 L864.4,462.6 L863.9,462.5 L863.5,462.3 L863.1,462 L862.6,461.7 L862.2,461.4 L861.8,461.1 L861.4,460.7 L861,460.2 L860.6,459.8 L860.2,459.3 L859.9,458.8 L859.5,458.2 L859.2,457.6 L858.9,457.1 L858.6,456.4 L858.4,455.8 L858.1,455.2 L857.9,454.6 L857.7,453.9 L857.6,453.3 L857.5,452.6 L857.4,452 L857.3,451.4Z" fill="#fff" stroke="#111" stroke-width="1.5" stroke-linejoin="round"/><ellipse cx="863.5" cy="453.6" rx="5.6" ry="9.6" transform="rotate(-20 863.5 453.6)" fill="#fff" stroke="#111" stroke-width="1.5" /><ellipse cx="863.8" cy="453.5" rx="3.8" ry="7.2" transform="rotate(-20 863.8 453.5)" fill="none" stroke="#111" stroke-width="1" /><ellipse cx="864" cy="453.4" rx="2.6" ry="5" transform="rotate(-20 864 453.4)" fill="#fff" stroke="#111" stroke-width="1.4" />
<line x1="837" y1="451.8" x2="841.1" y2="449.9" stroke="#111" stroke-width="3.6"/><line x1="842.4" y1="455.9" x2="846.5" y2="454.1" stroke="#111" stroke-width="3.6"/><line x1="846.3" y1="462.8" x2="850.4" y2="460.9" stroke="#111" stroke-width="3.6"/><line x1="847.7" y1="470.6" x2="851.8" y2="468.7" stroke="#111" stroke-width="3.6"/><line x1="846.2" y1="477.2" x2="850.3" y2="475.3" stroke="#111" stroke-width="3.6"/><line x1="842.2" y1="480.9" x2="846.4" y2="479" stroke="#111" stroke-width="3.6"/><line x1="836.8" y1="480.6" x2="840.9" y2="478.8" stroke="#111" stroke-width="3.6"/><line x1="831.4" y1="476.5" x2="835.5" y2="474.6" stroke="#111" stroke-width="3.6"/><line x1="827.5" y1="469.6" x2="831.6" y2="467.8" stroke="#111" stroke-width="3.6"/><line x1="826.1" y1="461.8" x2="830.2" y2="460" stroke="#111" stroke-width="3.6"/><line x1="827.6" y1="455.2" x2="831.7" y2="453.4" stroke="#111" stroke-width="3.6"/><line x1="831.6" y1="451.5" x2="835.7" y2="449.7" stroke="#111" stroke-width="3.6"/><path d="M827.6,461.8 L827.6,461 L827.7,460.2 L827.8,459.5 L828,458.8 L828.1,458.1 L828.4,457.5 L828.7,456.9 L829,456.3 L829.3,455.8 L829.7,455.4 L830.1,455 L830.5,454.7 L831,454.4 L837.4,451.5 L837.9,451.3 L838.4,451.2 L838.9,451.1 L839.5,451.1 L840,451.1 L840.6,451.2 L841.2,451.4 L841.8,451.6 L842.3,451.8 L842.9,452.2 L843.5,452.6 L844.1,453 L844.7,453.5 L845.2,454.1 L845.8,454.6 L846.3,455.3 L846.8,456 L847.3,456.7 L847.8,457.4 L848.2,458.2 L848.6,459 L849,459.9 L849.4,460.7 L849.7,461.6 L850,462.5 L850.2,463.3 L850.4,464.2 L850.6,465.1 L850.7,466 L850.8,466.8 L850.8,467.7 L850.8,468.5 L850.8,469.3 L850.7,470.1 L850.6,470.9 L850.4,471.6 L850.2,472.2 L850,472.9 L849.7,473.5 L849.4,474 L849.1,474.5 L848.7,474.9 L848.3,475.3 L847.9,475.7 L847.4,475.9 L841,478.8 L840.5,479 L840,479.2 L839.5,479.2 L838.9,479.3 L838.4,479.2 L837.8,479.1 L837.2,479 L836.6,478.8 L836,478.5 L835.5,478.2 L834.9,477.8 L834.3,477.3 L833.7,476.8 L833.2,476.3 L832.6,475.7 L832.1,475.1 L831.6,474.4 L831.1,473.7 L830.6,472.9 L830.2,472.1 L829.8,471.3 L829.4,470.5 L829,469.6 L828.7,468.8 L828.4,467.9 L828.2,467 L828,466.1 L827.8,465.2 L827.7,464.4 L827.6,463.5 L827.6,462.7Z" fill="#fff" stroke="#111" stroke-width="1.5" stroke-linejoin="round"/><ellipse cx="836" cy="466.6" rx="7.6" ry="13.2" transform="rotate(-20 836 466.6)" fill="#fff" stroke="#111" stroke-width="1.5" /><ellipse cx="836" cy="466.6" rx="7.6" ry="13.2" transform="rotate(-20 836 466.6)" fill="#fff" stroke="#111" stroke-width="1.7" /><ellipse cx="837" cy="466.2" rx="4.6" ry="8.4" transform="rotate(-20 837 466.2)" fill="#fff" stroke="#111" stroke-width="1.6" /><ellipse cx="838" cy="465.8" rx="3.6" ry="7.2" transform="rotate(-20 838 465.8)" fill="none" stroke="#111" stroke-width="0.9" />
<ellipse cx="810.3" cy="471.6" rx="2.8" ry="2.2" transform="rotate(-24 810.3 471.6)" fill="#fff" stroke="#111" stroke-width="1.4"/><ellipse cx="808.5" cy="479.3" rx="2.6" ry="2" transform="rotate(-24 808.5 479.3)" fill="#333" stroke="#111" stroke-width="1.2"/><ellipse cx="815" cy="482.8" rx="2.8" ry="2.2" transform="rotate(-24 815 482.8)" fill="#fff" stroke="#111" stroke-width="1.5"/>
<line x1="771" y1="495" x2="776" y2="492.8" stroke="#111" stroke-width="3" stroke-linecap="round"/><line x1="777.7" y1="498.8" x2="784.5" y2="495.8" stroke="#111" stroke-width="3"/><line x1="782.6" y1="502.7" x2="789.4" y2="499.6" stroke="#111" stroke-width="3"/><line x1="787.1" y1="502.1" x2="793.9" y2="499.1" stroke="#111" stroke-width="3"/><line x1="789.6" y1="497.4" x2="796.4" y2="494.3" stroke="#111" stroke-width="3"/><line x1="789.1" y1="490.2" x2="796" y2="487.1" stroke="#111" stroke-width="3"/><path d="M773.2,485.8 L773.3,485 L773.4,484.3 L773.5,483.5 L773.6,482.8 L773.8,482.2 L774,481.5 L774.3,480.9 L774.6,480.4 L774.9,479.9 L775.3,479.5 L775.7,479.1 L776.1,478.8 L776.6,478.5 L780.7,476.7 L781.2,476.5 L781.7,476.3 L782.2,476.3 L782.7,476.2 L783.2,476.3 L783.8,476.4 L784.4,476.5 L784.9,476.7 L785.5,477 L786.1,477.3 L786.7,477.7 L787.2,478.2 L787.8,478.7 L788.3,479.2 L788.9,479.8 L789.4,480.4 L789.9,481.1 L790.4,481.8 L790.8,482.5 L791.3,483.3 L791.7,484.1 L792.1,484.9 L792.4,485.7 L792.7,486.6 L793,487.5 L793.2,488.3 L793.4,489.2 L793.6,490.1 L793.7,490.9 L793.8,491.8 L793.9,492.6 L793.9,493.4 L793.8,494.2 L793.7,495 L793.6,495.7 L793.5,496.4 L793.3,497.1 L793.1,497.7 L792.8,498.3 L792.5,498.8 L792.2,499.3 L791.8,499.8 L791.4,500.1 L791,500.5 L790.5,500.7 L786.4,502.6 L785.9,502.8 L785.5,502.9 L784.9,503 L784.4,503 L783.9,503 L783.3,502.9 L782.7,502.7 L782.2,502.5 L781.6,502.2 L781,501.9 L780.4,501.5 L779.9,501.1 L779.3,500.6 L778.8,500.1 L778.2,499.5 L777.7,498.8 L777.2,498.2 L776.7,497.5 L776.3,496.7 L775.8,496 L775.4,495.2 L775,494.3 L774.7,493.5 L774.4,492.7 L774.1,491.8 L773.9,490.9 L773.7,490 L773.5,489.2 L773.4,488.3 L773.3,487.5 L773.3,486.6Z" fill="#fff" stroke="#111" stroke-width="1.5" stroke-linejoin="round"/><ellipse cx="781.5" cy="490.5" rx="7.4" ry="13" transform="rotate(-20 781.5 490.5)" fill="#fff" stroke="#111" stroke-width="1.5" /><ellipse cx="781.5" cy="490.5" rx="7.4" ry="13" transform="rotate(-20 781.5 490.5)" fill="#fff" stroke="#111" stroke-width="1.8" /><ellipse cx="781.8" cy="490.5" rx="4" ry="7" transform="rotate(-20 781.8 490.5)" fill="#222" stroke="#111" stroke-width="1.3" /><ellipse cx="782.1" cy="490.3" rx="2.2" ry="4.2" transform="rotate(-20 782.1 490.3)" fill="#fff" stroke="#111" stroke-width="0.8" /><ellipse cx="776.9" cy="484" rx="1.8" ry="1.4" fill="#fff" stroke="#111" stroke-width="1.1"/><ellipse cx="785" cy="499.8" rx="1.8" ry="1.4" fill="#fff" stroke="#111" stroke-width="1.1"/>
<circle cx="732.1" cy="497.3" r="2.4" fill="#fff" stroke="#111" stroke-width="1.1"/>
<circle cx="738.8" cy="495" r="2.4" fill="#fff" stroke="#111" stroke-width="1.1"/>
<circle cx="734.6" cy="511.6" r="2.4" fill="#fff" stroke="#111" stroke-width="1.1"/>
<circle cx="748.3" cy="506.9" r="2.4" fill="#fff" stroke="#111" stroke-width="1.1"/>
<circle cx="743.8" cy="524.4" r="2.4" fill="#fff" stroke="#111" stroke-width="1.1"/>
<circle cx="750.6" cy="521.9" r="2.4" fill="#fff" stroke="#111" stroke-width="1.1"/>
<line x1="718.9" y1="535.6" x2="722.5" y2="534" stroke="#111" stroke-width="3.4"/><line x1="718.9" y1="535.6" x2="722.5" y2="534" stroke="#fff" stroke-width="1.2"/><line x1="718.6" y1="523" x2="722.2" y2="521.4" stroke="#111" stroke-width="3.4"/><line x1="718.6" y1="523" x2="722.2" y2="521.4" stroke="#fff" stroke-width="1.2"/><line x1="713.3" y1="511.1" x2="716.9" y2="509.4" stroke="#111" stroke-width="3.4"/><line x1="713.3" y1="511.1" x2="716.9" y2="509.4" stroke="#fff" stroke-width="1.2"/><line x1="704.9" y1="504.2" x2="708.6" y2="502.5" stroke="#111" stroke-width="3.4"/><line x1="704.9" y1="504.2" x2="708.6" y2="502.5" stroke="#fff" stroke-width="1.2"/><path d="M691.6,520.3 L691.6,519.1 L691.7,517.9 L691.8,516.8 L692,515.7 L692.2,514.6 L692.5,513.6 L692.8,512.7 L693.2,511.8 L693.6,511 L694.1,510.2 L694.6,509.6 L695.2,509 L695.8,508.5 L696.4,508.1 L697.1,507.7 L705.3,504.1 L706,503.8 L706.7,503.6 L707.4,503.6 L708.2,503.6 L709,503.7 L709.7,503.9 L710.5,504.2 L711.3,504.6 L712.1,505 L712.9,505.6 L713.7,506.2 L714.5,506.9 L715.2,507.7 L715.9,508.5 L716.7,509.5 L717.3,510.4 L718,511.5 L718.6,512.5 L719.2,513.7 L719.7,514.8 L720.2,516 L720.7,517.3 L721.1,518.5 L721.5,519.8 L721.8,521.1 L722.1,522.4 L722.3,523.7 L722.4,525 L722.5,526.2 L722.6,527.5 L722.6,528.7 L722.5,529.9 L722.4,531 L722.2,532.1 L722,533.2 L721.7,534.2 L721.4,535.1 L721,536 L720.6,536.8 L720.1,537.6 L719.6,538.2 L719,538.8 L718.4,539.3 L717.8,539.8 L717.1,540.1 L708.9,543.8 L708.2,544 L707.5,544.2 L706.8,544.2 L706,544.2 L705.3,544.1 L704.5,543.9 L703.7,543.6 L702.9,543.2 L702.1,542.8 L701.3,542.2 L700.5,541.6 L699.8,540.9 L699,540.1 L698.3,539.3 L697.6,538.4 L696.9,537.4 L696.2,536.4 L695.6,535.3 L695,534.2 L694.5,533 L694,531.8 L693.5,530.5 L693.1,529.3 L692.7,528 L692.4,526.7 L692.2,525.4 L691.9,524.1 L691.8,522.9 L691.7,521.6Z" fill="#fff" stroke="#111" stroke-width="1.5" stroke-linejoin="round"/><ellipse cx="703" cy="525.8" rx="10.5" ry="19" transform="rotate(-16 703 525.8)" fill="#fff" stroke="#111" stroke-width="1.5" /><ellipse cx="703" cy="525.8" rx="9.2" ry="17" transform="rotate(-16 703 525.8)" fill="#111" stroke="#111" stroke-width="1" /><ellipse cx="704.5" cy="525.3" rx="5.6" ry="12.5" transform="rotate(-16 704.5 525.3)" fill="#fff" stroke="#111" stroke-width="1" /><ellipse cx="705.5" cy="524.9" rx="4.4" ry="11" transform="rotate(-16 705.5 524.9)" fill="none" stroke="#111" stroke-width="0.8" /><ellipse cx="700" cy="519" rx="1.3" ry="2" fill="#fff" stroke="#111" stroke-width="0.8"/><ellipse cx="705" cy="532" rx="1.3" ry="2" fill="#fff" stroke="#111" stroke-width="0.8"/><ellipse cx="702.5" cy="525.5" rx="1.3" ry="2" fill="#fff" stroke="#111" stroke-width="0.8"/>
<path d="M668.3,529.1 L668.3,528.8 L668.4,528.4 L668.4,528.1 L668.5,527.7 L668.6,527.4 L668.7,527.1 L668.8,526.8 L669,526.5 L669.1,526.3 L669.3,526 L669.5,525.8 L669.7,525.6 L669.9,525.4 L670.2,525.3 L670.4,525.2 L673.5,523.8 L673.8,523.7 L674,523.6 L674.3,523.6 L674.6,523.5 L674.9,523.6 L675.1,523.6 L675.4,523.7 L675.7,523.7 L676,523.9 L676.3,524 L676.6,524.2 L676.8,524.3 L677.1,524.5 L677.4,524.8 L677.6,525 L677.8,525.3 L678.1,525.6 L678.3,525.9 L678.5,526.2 L678.7,526.6 L678.9,526.9 L679,527.3 L679.1,527.6 L679.3,528 L679.4,528.4 L679.5,528.7 L679.5,529.1 L679.6,529.5 L679.6,529.9 L679.6,530.3 L679.6,530.6 L679.5,531 L679.5,531.3 L679.4,531.7 L679.3,532 L679.2,532.3 L679.1,532.6 L678.9,532.9 L678.8,533.1 L678.6,533.4 L678.4,533.6 L678.2,533.8 L678,534 L677.7,534.1 L677.5,534.2 L674.4,535.6 L674.1,535.7 L673.9,535.8 L673.6,535.8 L673.3,535.9 L673,535.9 L672.8,535.8 L672.5,535.8 L672.2,535.7 L671.9,535.6 L671.6,535.4 L671.3,535.3 L671.1,535.1 L670.8,534.9 L670.5,534.6 L670.3,534.4 L670.1,534.1 L669.8,533.8 L669.6,533.5 L669.4,533.2 L669.2,532.9 L669,532.5 L668.9,532.2 L668.8,531.8 L668.6,531.4 L668.5,531 L668.4,530.7 L668.4,530.3 L668.3,529.9 L668.3,529.5Z" fill="#111" stroke="#111" stroke-width="1" stroke-linejoin="round"/><ellipse cx="672.4" cy="530.4" rx="3.9" ry="5.6" transform="rotate(-18 672.4 530.4)" fill="#111" stroke="#111" stroke-width="1" /><line x1="669.6" y1="527.9" x2="674.6" y2="525.9" stroke="#666" stroke-width="0.6"/><line x1="669.6" y1="529.9" x2="674.6" y2="527.9" stroke="#666" stroke-width="0.6"/><line x1="669.6" y1="531.9" x2="674.6" y2="529.9" stroke="#666" stroke-width="0.6"/><line x1="669.6" y1="533.9" x2="674.6" y2="531.9" stroke="#666" stroke-width="0.6"/>
<path d="M665.5,540.5 L665.5,540.2 L665.6,539.8 L665.6,539.5 L665.7,539.1 L665.8,538.8 L665.9,538.5 L666,538.2 L666.2,537.9 L666.3,537.7 L666.5,537.4 L666.7,537.2 L666.9,537 L667.1,536.8 L667.4,536.7 L667.6,536.6 L670.7,535.2 L671,535.1 L671.2,535 L671.5,535 L671.8,534.9 L672.1,535 L672.3,535 L672.6,535.1 L672.9,535.1 L673.2,535.3 L673.5,535.4 L673.8,535.6 L674,535.7 L674.3,535.9 L674.6,536.2 L674.8,536.4 L675,536.7 L675.3,537 L675.5,537.3 L675.7,537.6 L675.9,538 L676.1,538.3 L676.2,538.7 L676.3,539 L676.5,539.4 L676.6,539.8 L676.7,540.1 L676.7,540.5 L676.8,540.9 L676.8,541.3 L676.8,541.7 L676.8,542 L676.7,542.4 L676.7,542.7 L676.6,543.1 L676.5,543.4 L676.4,543.7 L676.3,544 L676.1,544.3 L676,544.5 L675.8,544.8 L675.6,545 L675.4,545.2 L675.2,545.4 L674.9,545.5 L674.7,545.6 L671.6,547 L671.3,547.1 L671.1,547.2 L670.8,547.2 L670.5,547.3 L670.2,547.3 L670,547.2 L669.7,547.2 L669.4,547.1 L669.1,547 L668.8,546.8 L668.5,546.7 L668.3,546.5 L668,546.3 L667.7,546 L667.5,545.8 L667.3,545.5 L667,545.2 L666.8,544.9 L666.6,544.6 L666.4,544.3 L666.2,543.9 L666.1,543.6 L666,543.2 L665.8,542.8 L665.7,542.4 L665.6,542.1 L665.6,541.7 L665.5,541.3 L665.5,540.9Z" fill="#111" stroke="#111" stroke-width="1" stroke-linejoin="round"/><ellipse cx="669.6" cy="541.8" rx="3.9" ry="5.6" transform="rotate(-18 669.6 541.8)" fill="#111" stroke="#111" stroke-width="1" /><line x1="666.8" y1="539.3" x2="671.8" y2="537.3" stroke="#666" stroke-width="0.6"/><line x1="666.8" y1="541.3" x2="671.8" y2="539.3" stroke="#666" stroke-width="0.6"/><line x1="666.8" y1="543.3" x2="671.8" y2="541.3" stroke="#666" stroke-width="0.6"/><line x1="666.8" y1="545.3" x2="671.8" y2="543.3" stroke="#666" stroke-width="0.6"/>
<path d="M676,546.2 L676,545.9 L676.1,545.5 L676.1,545.2 L676.2,544.8 L676.3,544.5 L676.4,544.2 L676.5,543.9 L676.7,543.6 L676.8,543.4 L677,543.1 L677.2,542.9 L677.4,542.7 L677.6,542.5 L677.9,542.4 L678.1,542.3 L681.2,540.9 L681.5,540.8 L681.7,540.7 L682,540.7 L682.3,540.6 L682.6,540.7 L682.8,540.7 L683.1,540.8 L683.4,540.8 L683.7,541 L684,541.1 L684.3,541.3 L684.5,541.4 L684.8,541.6 L685.1,541.9 L685.3,542.1 L685.5,542.4 L685.8,542.7 L686,543 L686.2,543.3 L686.4,543.7 L686.6,544 L686.7,544.4 L686.8,544.7 L687,545.1 L687.1,545.5 L687.2,545.8 L687.2,546.2 L687.3,546.6 L687.3,547 L687.3,547.4 L687.3,547.7 L687.2,548.1 L687.2,548.4 L687.1,548.8 L687,549.1 L686.9,549.4 L686.8,549.7 L686.6,550 L686.5,550.2 L686.3,550.5 L686.1,550.7 L685.9,550.9 L685.7,551.1 L685.4,551.2 L685.2,551.3 L682.1,552.7 L681.8,552.8 L681.6,552.9 L681.3,552.9 L681,553 L680.7,553 L680.5,552.9 L680.2,552.9 L679.9,552.8 L679.6,552.7 L679.3,552.5 L679,552.4 L678.8,552.2 L678.5,552 L678.2,551.7 L678,551.5 L677.8,551.2 L677.5,550.9 L677.3,550.6 L677.1,550.3 L676.9,550 L676.7,549.6 L676.6,549.3 L676.5,548.9 L676.3,548.5 L676.2,548.1 L676.1,547.8 L676.1,547.4 L676,547 L676,546.6Z" fill="#111" stroke="#111" stroke-width="1" stroke-linejoin="round"/><ellipse cx="680.1" cy="547.5" rx="3.9" ry="5.6" transform="rotate(-18 680.1 547.5)" fill="#111" stroke="#111" stroke-width="1" /><line x1="677.3" y1="545" x2="682.3" y2="543" stroke="#666" stroke-width="0.6"/><line x1="677.3" y1="547" x2="682.3" y2="545" stroke="#666" stroke-width="0.6"/><line x1="677.3" y1="549" x2="682.3" y2="547" stroke="#666" stroke-width="0.6"/><line x1="677.3" y1="551" x2="682.3" y2="549" stroke="#666" stroke-width="0.6"/>
<path d="M637.5,535.9 L640,534 L644.4,532.7 L648.2,535.9 L655,545 L658.4,549.2 L659.7,560 L659.7,567.6 L656,569 L653.3,570.1 L645,561 L641.9,556.2 L638.7,543.5 Z" fill="#fff" stroke="#111" stroke-width="1.3" stroke-linejoin="round"/><ellipse cx="648.4" cy="551.2" rx="3.3" ry="6.2" transform="rotate(-18 648.4 551.2)" fill="#fff" stroke="#111" stroke-width="1.2"/>
<ellipse cx="621.6" cy="561.9" rx="9.6" ry="19.5" transform="rotate(-23 621.6 561.9)" fill="none" stroke="#111" stroke-width="2" /><ellipse cx="622.2" cy="561.6" rx="8.1" ry="17.6" transform="rotate(-23 622.2 561.6)" fill="none" stroke="#111" stroke-width="2.4" stroke-dasharray="3.2 1.1"/><ellipse cx="622.4" cy="561.5" rx="7.1" ry="16" transform="rotate(-23 622.4 561.5)" fill="none" stroke="#111" stroke-width="1.1" />
<path d="M586.5,565.2 L591.6,564.3 L601.7,579 L600.4,581.7 L591.6,584.9 L587.8,584.3 L588.5,580 L585.5,568 Z" fill="#fff" stroke="#111" stroke-width="1.3" stroke-linejoin="round"/><path d="M585,568 l3,-1 M586,583 l4,-1 M590,566 l2,12" stroke="#111" stroke-width="1" fill="none"/><path d="M594.8,573.1 L594.8,572.8 L594.8,572.5 L594.9,572.2 L594.9,572 L595,571.7 L595.1,571.4 L595.2,571.2 L595.3,571 L595.4,570.8 L595.5,570.6 L595.7,570.4 L595.8,570.3 L596,570.1 L596.2,570 L596.4,569.9 L598.8,568.8 L599,568.8 L599.2,568.7 L599.4,568.7 L599.6,568.7 L599.8,568.7 L600,568.7 L600.2,568.8 L600.5,568.8 L600.7,568.9 L600.9,569.1 L601.1,569.2 L601.3,569.3 L601.5,569.5 L601.7,569.7 L601.9,569.9 L602.1,570.1 L602.3,570.4 L602.5,570.6 L602.6,570.9 L602.8,571.2 L602.9,571.5 L603.1,571.8 L603.2,572.1 L603.3,572.4 L603.4,572.7 L603.4,573 L603.5,573.3 L603.5,573.6 L603.6,573.9 L603.6,574.2 L603.6,574.5 L603.5,574.8 L603.5,575.1 L603.4,575.4 L603.4,575.6 L603.3,575.9 L603.2,576.1 L603.1,576.4 L603,576.6 L602.8,576.8 L602.7,576.9 L602.5,577.1 L602.4,577.2 L602.2,577.3 L602,577.4 L599.6,578.5 L599.4,578.6 L599.2,578.6 L599,578.7 L598.8,578.7 L598.6,578.7 L598.4,578.6 L598.1,578.6 L597.9,578.5 L597.7,578.4 L597.5,578.3 L597.3,578.1 L597,578 L596.8,577.8 L596.6,577.6 L596.4,577.4 L596.2,577.2 L596.1,577 L595.9,576.7 L595.7,576.4 L595.6,576.2 L595.4,575.9 L595.3,575.6 L595.2,575.3 L595.1,575 L595,574.7 L594.9,574.4 L594.9,574 L594.8,573.7 L594.8,573.4Z" fill="#111" stroke="#111" stroke-width="1" stroke-linejoin="round"/><ellipse cx="598" cy="574.2" rx="3" ry="4.6" transform="rotate(-18 598 574.2)" fill="#111" stroke="#111" stroke-width="1" />
<path d="M564.9,577.3 L564.9,577.1 L564.9,576.8 L564.9,576.5 L565,576.3 L565.1,576 L565.1,575.8 L565.2,575.5 L565.4,575.3 L565.5,575.1 L565.6,574.9 L565.8,574.8 L565.9,574.6 L566.1,574.5 L566.3,574.4 L566.5,574.3 L568.7,573.3 L568.9,573.2 L569.1,573.2 L569.3,573.1 L569.5,573.1 L569.7,573.1 L569.9,573.2 L570.1,573.2 L570.4,573.3 L570.6,573.4 L570.8,573.5 L571,573.6 L571.2,573.7 L571.4,573.9 L571.6,574.1 L571.8,574.3 L572,574.5 L572.2,574.7 L572.3,574.9 L572.5,575.2 L572.6,575.4 L572.8,575.7 L572.9,576 L573,576.2 L573.1,576.5 L573.2,576.8 L573.2,577.1 L573.3,577.4 L573.3,577.7 L573.3,578 L573.3,578.3 L573.3,578.6 L573.3,578.8 L573.3,579.1 L573.2,579.4 L573.1,579.6 L573,579.9 L572.9,580.1 L572.8,580.3 L572.7,580.5 L572.6,580.7 L572.4,580.8 L572.3,581 L572.1,581.1 L571.9,581.2 L571.7,581.3 L569.5,582.3 L569.3,582.4 L569.1,582.4 L568.9,582.5 L568.7,582.5 L568.5,582.5 L568.3,582.5 L568.1,582.4 L567.8,582.3 L567.6,582.3 L567.4,582.2 L567.2,582 L567,581.9 L566.8,581.7 L566.6,581.5 L566.4,581.4 L566.2,581.1 L566,580.9 L565.9,580.7 L565.7,580.4 L565.6,580.2 L565.4,579.9 L565.3,579.6 L565.2,579.4 L565.1,579.1 L565,578.8 L565,578.5 L564.9,578.2 L564.9,577.9 L564.9,577.6Z" fill="#111" stroke="#111" stroke-width="1" stroke-linejoin="round"/><ellipse cx="568" cy="578.3" rx="3" ry="4.3" transform="rotate(-18 568 578.3)" fill="#111" stroke="#111" stroke-width="1" /><path d="M567.6,590.6 L567.6,590.3 L567.6,590.1 L567.6,589.8 L567.7,589.5 L567.8,589.3 L567.9,589 L568,588.8 L568.1,588.6 L568.2,588.4 L568.4,588.2 L568.5,588 L568.7,587.8 L568.9,587.7 L569,587.6 L569.2,587.5 L577.4,583.8 L577.7,583.7 L577.9,583.7 L578.1,583.6 L578.3,583.6 L578.5,583.6 L578.7,583.7 L579,583.7 L579.2,583.8 L579.4,583.9 L579.6,584 L579.9,584.1 L580.1,584.2 L580.3,584.4 L580.5,584.6 L580.7,584.8 L580.9,585 L581.1,585.2 L581.2,585.5 L581.4,585.7 L581.5,586 L581.7,586.2 L581.8,586.5 L581.9,586.8 L582,587.1 L582.1,587.4 L582.2,587.7 L582.2,588 L582.2,588.3 L582.3,588.6 L582.3,588.9 L582.2,589.2 L582.2,589.5 L582.2,589.7 L582.1,590 L582,590.3 L581.9,590.5 L581.8,590.7 L581.7,591 L581.6,591.2 L581.5,591.3 L581.3,591.5 L581.1,591.7 L581,591.8 L580.8,591.9 L580.6,592 L572.4,595.7 L572.2,595.8 L572,595.8 L571.7,595.9 L571.5,595.9 L571.3,595.9 L571.1,595.9 L570.8,595.8 L570.6,595.7 L570.4,595.7 L570.2,595.5 L569.9,595.4 L569.7,595.3 L569.5,595.1 L569.3,594.9 L569.1,594.7 L568.9,594.5 L568.7,594.3 L568.6,594.1 L568.4,593.8 L568.3,593.5 L568.1,593.3 L568,593 L567.9,592.7 L567.8,592.4 L567.7,592.1 L567.7,591.8 L567.6,591.5 L567.6,591.2 L567.6,590.9Z" fill="#111" stroke="#111" stroke-width="1" stroke-linejoin="round"/><ellipse cx="570.8" cy="591.6" rx="3.1" ry="4.4" transform="rotate(-18 570.8 591.6)" fill="#111" stroke="#111" stroke-width="1" /><line x1="565.8" y1="575.8" x2="568.5" y2="574.6" stroke="#777" stroke-width="0.5"/><line x1="565.8" y1="577.5" x2="568.5" y2="576.3" stroke="#777" stroke-width="0.5"/><line x1="565.8" y1="579.1" x2="568.5" y2="577.9" stroke="#777" stroke-width="0.5"/><line x1="565.8" y1="580.8" x2="568.5" y2="579.6" stroke="#777" stroke-width="0.5"/><line x1="568.5" y1="589.5" x2="577.6" y2="585.4" stroke="#777" stroke-width="0.5"/><line x1="568.5" y1="591.2" x2="577.6" y2="587.1" stroke="#777" stroke-width="0.5"/><line x1="568.5" y1="592.8" x2="577.6" y2="588.7" stroke="#777" stroke-width="0.5"/><line x1="568.5" y1="594.5" x2="577.6" y2="590.4" stroke="#777" stroke-width="0.5"/>
<path d="M534.7,592.8 L534.7,592 L534.8,591.1 L534.9,590.4 L535.1,589.6 L535.3,588.9 L535.5,588.3 L535.8,587.7 L536.1,587.1 L536.4,586.6 L536.8,586.2 L537.1,585.8 L537.6,585.5 L538,585.3 L542.6,583.2 L543,583 L543.5,582.9 L544,582.9 L544.6,582.9 L545.1,582.9 L545.6,583.1 L546.2,583.3 L546.8,583.6 L547.3,583.9 L547.9,584.3 L548.4,584.7 L549,585.2 L549.6,585.8 L550.1,586.4 L550.6,587.1 L551.1,587.8 L551.6,588.5 L552.1,589.3 L552.5,590.1 L553,591 L553.4,591.9 L553.7,592.7 L554.1,593.7 L554.4,594.6 L554.6,595.5 L554.9,596.5 L555.1,597.4 L555.2,598.4 L555.3,599.3 L555.4,600.2 L555.5,601.1 L555.5,602 L555.4,602.8 L555.3,603.6 L555.2,604.4 L555.1,605.1 L554.9,605.8 L554.7,606.5 L554.4,607.1 L554.1,607.6 L553.8,608.1 L553.4,608.5 L553,608.9 L552.6,609.2 L552.2,609.5 L547.6,611.5 L547.1,611.7 L546.6,611.8 L546.1,611.9 L545.6,611.9 L545.1,611.8 L544.5,611.7 L544,611.5 L543.4,611.2 L542.8,610.9 L542.3,610.5 L541.7,610 L541.2,609.5 L540.6,609 L540.1,608.4 L539.5,607.7 L539,607 L538.5,606.2 L538.1,605.5 L537.6,604.6 L537.2,603.8 L536.8,602.9 L536.4,602 L536.1,601.1 L535.8,600.2 L535.5,599.2 L535.3,598.3 L535.1,597.3 L535,596.4 L534.8,595.5 L534.7,594.6 L534.7,593.7Z" fill="#111" stroke="#111" stroke-width="1.2" stroke-linejoin="round"/><ellipse cx="542.8" cy="598.4" rx="7.2" ry="14" transform="rotate(-18 542.8 598.4)" fill="#111" stroke="#111" stroke-width="1.2" /><ellipse cx="545.3" cy="597.3" rx="7.6" ry="14.6" transform="rotate(-18 545.3 597.3)" fill="none" stroke="#111" stroke-width="2" stroke-dasharray="1.5 1"/><ellipse cx="542.8" cy="598.4" rx="7.2" ry="14" transform="rotate(-18 542.8 598.4)" fill="#fff" stroke="#111" stroke-width="1.8" /><ellipse cx="543.1" cy="598.4" rx="5.8" ry="11.8" transform="rotate(-18 543.1 598.4)" fill="none" stroke="#111" stroke-width="0.9" /><ellipse cx="543.8" cy="598.1" rx="3.2" ry="5.6" transform="rotate(-18 543.8 598.1)" fill="#fff" stroke="#111" stroke-width="1.6" /><ellipse cx="544" cy="598" rx="1.9" ry="3.2" transform="rotate(-18 544 598)" fill="#444" stroke="#111" stroke-width="0.8" /><line x1="534" y1="604" x2="539" y2="601.8" stroke="#111" stroke-width="2.2" stroke-linecap="round"/><circle cx="539.5" cy="591" r="1.1" fill="#111"/><circle cx="546.5" cy="606" r="1.1" fill="#111"/>
<path d="M509.1,600.1 L509.2,599.8 L509.2,599.4 L509.2,599.1 L509.3,598.8 L509.4,598.4 L509.5,598.1 L509.7,597.9 L509.8,597.6 L510,597.3 L510.2,597.1 L510.4,596.9 L510.6,596.7 L510.8,596.5 L511,596.4 L511.3,596.3 L514,595 L514.3,594.9 L514.5,594.9 L514.8,594.8 L515.1,594.8 L515.4,594.8 L515.6,594.8 L515.9,594.9 L516.2,595 L516.5,595.1 L516.8,595.2 L517,595.4 L517.3,595.5 L517.6,595.7 L517.8,596 L518.1,596.2 L518.3,596.5 L518.5,596.7 L518.8,597 L518.9,597.3 L519.1,597.7 L519.3,598 L519.5,598.3 L519.6,598.7 L519.7,599 L519.8,599.4 L519.9,599.8 L519.9,600.1 L520,600.5 L520,600.9 L520,601.2 L520,601.6 L519.9,601.9 L519.9,602.3 L519.8,602.6 L519.7,602.9 L519.6,603.2 L519.5,603.5 L519.3,603.8 L519.2,604 L519,604.3 L518.8,604.5 L518.6,604.7 L518.3,604.8 L518.1,605 L517.9,605.1 L515.1,606.3 L514.9,606.4 L514.6,606.5 L514.3,606.6 L514.1,606.6 L513.8,606.6 L513.5,606.5 L513.2,606.5 L512.9,606.4 L512.6,606.3 L512.4,606.2 L512.1,606 L511.8,605.8 L511.6,605.6 L511.3,605.4 L511.1,605.2 L510.8,604.9 L510.6,604.6 L510.4,604.3 L510.2,604 L510,603.7 L509.8,603.4 L509.7,603 L509.6,602.7 L509.4,602.3 L509.3,602 L509.3,601.6 L509.2,601.2 L509.2,600.9 L509.1,600.5Z" fill="#111" stroke="#111" stroke-width="1" stroke-linejoin="round"/><ellipse cx="513.2" cy="601.3" rx="3.9" ry="5.4" transform="rotate(-18 513.2 601.3)" fill="#111" stroke="#111" stroke-width="1" /><ellipse cx="513.2" cy="601.3" rx="2.8" ry="4.2" transform="rotate(-18 513.2 601.3)" fill="#fff" stroke="#111" stroke-width="0.8" /><ellipse cx="513.2" cy="601.3" rx="1.1" ry="1.6" transform="rotate(-18 513.2 601.3)" fill="#fff" stroke="#111" stroke-width="0.9" />
<path d="M510.5,615.3 L510.6,615 L510.6,614.6 L510.6,614.3 L510.7,614 L510.8,613.6 L510.9,613.3 L511.1,613.1 L511.2,612.8 L511.4,612.5 L511.6,612.3 L511.8,612.1 L512,611.9 L512.2,611.7 L512.4,611.6 L512.7,611.5 L515.4,610.2 L515.7,610.1 L515.9,610.1 L516.2,610 L516.5,610 L516.8,610 L517,610 L517.3,610.1 L517.6,610.2 L517.9,610.3 L518.2,610.4 L518.4,610.6 L518.7,610.7 L519,610.9 L519.2,611.2 L519.5,611.4 L519.7,611.7 L519.9,611.9 L520.2,612.2 L520.3,612.5 L520.5,612.9 L520.7,613.2 L520.9,613.5 L521,613.9 L521.1,614.2 L521.2,614.6 L521.3,615 L521.3,615.3 L521.4,615.7 L521.4,616.1 L521.4,616.4 L521.4,616.8 L521.3,617.1 L521.3,617.5 L521.2,617.8 L521.1,618.1 L521,618.4 L520.9,618.7 L520.7,619 L520.6,619.2 L520.4,619.5 L520.2,619.7 L520,619.9 L519.7,620 L519.5,620.2 L519.3,620.3 L516.5,621.5 L516.3,621.6 L516,621.7 L515.7,621.8 L515.5,621.8 L515.2,621.8 L514.9,621.7 L514.6,621.7 L514.3,621.6 L514,621.5 L513.8,621.4 L513.5,621.2 L513.2,621 L513,620.8 L512.7,620.6 L512.5,620.4 L512.2,620.1 L512,619.8 L511.8,619.5 L511.6,619.2 L511.4,618.9 L511.2,618.6 L511.1,618.2 L511,617.9 L510.8,617.5 L510.7,617.2 L510.7,616.8 L510.6,616.4 L510.6,616.1 L510.5,615.7Z" fill="#111" stroke="#111" stroke-width="1" stroke-linejoin="round"/><ellipse cx="514.6" cy="616.5" rx="3.9" ry="5.4" transform="rotate(-18 514.6 616.5)" fill="#111" stroke="#111" stroke-width="1" /><ellipse cx="514.6" cy="616.5" rx="2.8" ry="4.2" transform="rotate(-18 514.6 616.5)" fill="#fff" stroke="#111" stroke-width="0.8" /><ellipse cx="514.6" cy="616.5" rx="1.1" ry="1.6" transform="rotate(-18 514.6 616.5)" fill="#fff" stroke="#111" stroke-width="0.9" />
<path d="M518.7,612.8 L518.8,612.5 L518.8,612.1 L518.8,611.8 L518.9,611.5 L519,611.1 L519.1,610.8 L519.3,610.6 L519.4,610.3 L519.6,610 L519.8,609.8 L520,609.6 L520.2,609.4 L520.4,609.2 L520.6,609.1 L520.9,609 L523.6,607.7 L523.9,607.6 L524.1,607.6 L524.4,607.5 L524.7,607.5 L525,607.5 L525.2,607.5 L525.5,607.6 L525.8,607.7 L526.1,607.8 L526.4,607.9 L526.6,608.1 L526.9,608.2 L527.2,608.4 L527.4,608.7 L527.7,608.9 L527.9,609.2 L528.1,609.4 L528.4,609.7 L528.5,610 L528.7,610.4 L528.9,610.7 L529.1,611 L529.2,611.4 L529.3,611.7 L529.4,612.1 L529.5,612.5 L529.5,612.8 L529.6,613.2 L529.6,613.6 L529.6,613.9 L529.6,614.3 L529.5,614.6 L529.5,615 L529.4,615.3 L529.3,615.6 L529.2,615.9 L529.1,616.2 L528.9,616.5 L528.8,616.7 L528.6,617 L528.4,617.2 L528.2,617.4 L527.9,617.5 L527.7,617.7 L527.5,617.8 L524.7,619 L524.5,619.1 L524.2,619.2 L523.9,619.3 L523.7,619.3 L523.4,619.3 L523.1,619.2 L522.8,619.2 L522.5,619.1 L522.2,619 L522,618.9 L521.7,618.7 L521.4,618.5 L521.2,618.3 L520.9,618.1 L520.7,617.9 L520.4,617.6 L520.2,617.3 L520,617 L519.8,616.7 L519.6,616.4 L519.4,616.1 L519.3,615.7 L519.2,615.4 L519,615 L518.9,614.7 L518.9,614.3 L518.8,613.9 L518.8,613.6 L518.7,613.2Z" fill="#111" stroke="#111" stroke-width="1" stroke-linejoin="round"/><ellipse cx="522.8" cy="614" rx="3.9" ry="5.4" transform="rotate(-18 522.8 614)" fill="#111" stroke="#111" stroke-width="1" /><ellipse cx="522.8" cy="614" rx="2.8" ry="4.2" transform="rotate(-18 522.8 614)" fill="#fff" stroke="#111" stroke-width="0.8" /><ellipse cx="522.8" cy="614" rx="1.1" ry="1.6" transform="rotate(-18 522.8 614)" fill="#fff" stroke="#111" stroke-width="0.9" />
<path d="M477,620.5 C472,619 471.5,612 473.5,607 C475,603.5 478,602.5 480.5,603.5 C487,606 493,617 495.5,631.5" fill="none" stroke="#111" stroke-width="1.8" stroke-linecap="round"/>
<path d="M444.4,631.2 L444.4,630 L444.5,628.9 L444.6,627.9 L444.8,626.8 L445,625.9 L445.3,625 L445.6,624.1 L446,623.3 L446.4,622.6 L446.8,622 L447.3,621.4 L447.9,620.9 L448.4,620.5 L449,620.2 L454.5,617.8 L455.1,617.5 L455.8,617.4 L456.5,617.3 L457.1,617.3 L457.9,617.4 L458.6,617.6 L459.3,617.9 L460.1,618.3 L460.8,618.7 L461.5,619.2 L462.3,619.8 L463,620.5 L463.7,621.2 L464.4,622 L465.1,622.9 L465.7,623.8 L466.4,624.8 L467,625.9 L467.6,626.9 L468.1,628.1 L468.6,629.2 L469,630.4 L469.5,631.6 L469.8,632.8 L470.2,634.1 L470.4,635.3 L470.7,636.5 L470.9,637.8 L471,639 L471.1,640.2 L471.1,641.3 L471.1,642.5 L471,643.6 L470.9,644.7 L470.7,645.7 L470.5,646.6 L470.2,647.5 L469.9,648.4 L469.5,649.2 L469.1,649.9 L468.6,650.5 L468.1,651.1 L467.6,651.6 L467.1,652 L466.5,652.3 L461,654.7 L460.4,655 L459.7,655.1 L459,655.2 L458.3,655.2 L457.6,655.1 L456.9,654.9 L456.2,654.6 L455.4,654.3 L454.7,653.8 L453.9,653.3 L453.2,652.7 L452.5,652 L451.8,651.3 L451.1,650.5 L450.4,649.6 L449.7,648.7 L449.1,647.7 L448.5,646.6 L447.9,645.6 L447.4,644.4 L446.9,643.3 L446.4,642.1 L446,640.9 L445.6,639.7 L445.3,638.4 L445,637.2 L444.8,636 L444.6,634.7 L444.5,633.5 L444.4,632.3Z" fill="#fff" stroke="#111" stroke-width="1.2" stroke-linejoin="round"/><ellipse cx="455" cy="637.5" rx="9.6" ry="18.3" transform="rotate(-17 455 637.5)" fill="#fff" stroke="#111" stroke-width="1.2" /><ellipse cx="461" cy="634.5" rx="9" ry="17.5" transform="rotate(-17 461 634.5)" fill="none" stroke="#111" stroke-width="2.6" stroke-dasharray="2.5 1.5"/><ellipse cx="455" cy="637.5" rx="9.6" ry="18.3" transform="rotate(-17 455 637.5)" fill="#fff" stroke="#111" stroke-width="1.4" /><ellipse cx="455.5" cy="637.3" rx="8" ry="16" transform="rotate(-17 455.5 637.3)" fill="#111" stroke="#111" stroke-width="1" /><ellipse cx="457.5" cy="636.5" rx="4.3" ry="11.5" transform="rotate(-17 457.5 636.5)" fill="#fff" stroke="#111" stroke-width="0.8" />
<path d="M414.3,644.3 L414.3,643.2 L414.4,642.1 L414.5,641.1 L414.7,640.1 L414.9,639.2 L415.2,638.3 L415.5,637.5 L415.9,636.8 L416.3,636.1 L416.7,635.5 L417.2,635 L417.8,634.5 L418.4,634.2 L422.5,632.3 L423.1,632.1 L423.7,631.9 L424.4,631.8 L425.1,631.8 L425.8,631.8 L426.5,632 L427.3,632.2 L428.1,632.6 L428.8,633 L429.6,633.5 L430.4,634 L431.1,634.7 L431.9,635.4 L432.6,636.2 L433.3,637 L434.1,637.9 L434.7,638.9 L435.4,639.9 L436,641 L436.6,642.1 L437.2,643.2 L437.7,644.4 L438.2,645.6 L438.6,646.8 L439,648 L439.4,649.2 L439.7,650.5 L439.9,651.7 L440.1,652.9 L440.3,654.1 L440.4,655.3 L440.4,656.5 L440.4,657.6 L440.3,658.7 L440.2,659.7 L440.1,660.7 L439.8,661.6 L439.6,662.5 L439.2,663.3 L438.9,664 L438.4,664.7 L438,665.3 L437.5,665.8 L436.9,666.2 L436.3,666.6 L432.2,668.4 L431.6,668.7 L431,668.9 L430.3,669 L429.6,669 L428.9,668.9 L428.2,668.8 L427.4,668.5 L426.7,668.2 L425.9,667.8 L425.1,667.3 L424.3,666.7 L423.6,666.1 L422.8,665.4 L422.1,664.6 L421.4,663.7 L420.7,662.8 L420,661.9 L419.3,660.9 L418.7,659.8 L418.1,658.7 L417.5,657.6 L417,656.4 L416.5,655.2 L416.1,654 L415.7,652.7 L415.3,651.5 L415,650.3 L414.8,649.1 L414.6,647.8 L414.4,646.6 L414.3,645.5Z" fill="#fff" stroke="#111" stroke-width="1.2" stroke-linejoin="round"/><ellipse cx="425.3" cy="651.3" rx="9.6" ry="18.5" transform="rotate(-20 425.3 651.3)" fill="#fff" stroke="#111" stroke-width="1.2" /><ellipse cx="425.6" cy="651.2" rx="8.2" ry="16.3" transform="rotate(-20 425.6 651.2)" fill="#111" stroke="#111" stroke-width="1" /><ellipse cx="426.5" cy="650.8" rx="5.8" ry="12.8" transform="rotate(-20 426.5 650.8)" fill="#fff" stroke="#111" stroke-width="1" />
<ellipse cx="397.7" cy="664.2" rx="8.6" ry="17.7" transform="rotate(-22 397.7 664.2)" fill="#fff" stroke="#111" stroke-width="1.3" /><ellipse cx="397.4" cy="664.5" rx="3.8" ry="7.2" transform="rotate(-22 397.4 664.5)" fill="#fff" stroke="#111" stroke-width="1.3" />
<path d="M356,661 l6,-2 l8,4 l2,6 M366,672 l4,-1 l0,4 l6,0 M368,680 l5,-1 l0,4 M374,686 l4,2 l0,6" stroke="#111" stroke-width="1.2" fill="none"/><path d="M336.7,679 L336.7,677.8 L336.8,676.7 L337,675.6 L337.2,674.6 L337.4,673.7 L337.7,672.8 L338.1,672 L338.5,671.2 L339,670.5 L339.4,669.9 L340,669.4 L340.6,669 L341.2,668.6 L353.9,662.9 L354.6,662.6 L355.3,662.4 L356,662.3 L356.7,662.3 L357.4,662.4 L358.2,662.6 L359,662.8 L359.8,663.2 L360.5,663.6 L361.3,664.1 L362.1,664.7 L362.9,665.4 L363.7,666.1 L364.4,666.9 L365.2,667.8 L365.9,668.8 L366.6,669.8 L367.2,670.8 L367.9,671.9 L368.5,673.1 L369,674.2 L369.5,675.5 L370,676.7 L370.4,677.9 L370.8,679.2 L371.2,680.5 L371.4,681.8 L371.7,683 L371.9,684.3 L372,685.5 L372.1,686.7 L372.1,687.9 L372,689.1 L371.9,690.2 L371.8,691.2 L371.6,692.2 L371.3,693.2 L371,694.1 L370.7,694.9 L370.3,695.7 L369.8,696.3 L369.3,696.9 L368.8,697.5 L368.2,697.9 L367.6,698.3 L354.8,704 L354.2,704.3 L353.5,704.4 L352.8,704.5 L352.1,704.5 L351.3,704.5 L350.6,704.3 L349.8,704 L349,703.7 L348.2,703.3 L347.4,702.7 L346.7,702.2 L345.9,701.5 L345.1,700.7 L344.4,699.9 L343.6,699 L342.9,698.1 L342.2,697.1 L341.6,696 L340.9,694.9 L340.3,693.8 L339.8,692.6 L339.2,691.4 L338.8,690.2 L338.3,688.9 L338,687.7 L337.6,686.4 L337.3,685.1 L337.1,683.8 L336.9,682.6 L336.8,681.4 L336.7,680.1Z" fill="#fff" stroke="#111" stroke-width="1.2" stroke-linejoin="round"/><ellipse cx="348" cy="686.3" rx="10" ry="19" transform="rotate(-19 348 686.3)" fill="#fff" stroke="#111" stroke-width="1.2" /><path d="M363,676 l5,-2 l0,5 l-5,2 Z M366,684 l5,-2 l0,5 l-5,2 Z" fill="#111"/><ellipse cx="348" cy="686.3" rx="10" ry="19" transform="rotate(-19 348 686.3)" fill="#fff" stroke="#111" stroke-width="1.3" /><ellipse cx="347" cy="686.6" rx="5" ry="9" transform="rotate(-19 347 686.6)" fill="#fff" stroke="#111" stroke-width="1.3" /><ellipse cx="347.5" cy="686.4" rx="3.8" ry="7.2" transform="rotate(-19 347.5 686.4)" fill="none" stroke="#111" stroke-width="2" /><ellipse cx="348" cy="686.3" rx="2.3" ry="4.5" transform="rotate(-19 348 686.3)" fill="#fff" stroke="#111" stroke-width="1" />
<path d="M311.8,699.7 L311.9,699.4 L311.9,699.1 L312,698.7 L312,698.4 L312.1,698.2 L312.2,697.9 L312.3,697.6 L312.5,697.4 L312.6,697.1 L312.8,696.9 L313,696.7 L313.2,696.5 L313.4,696.4 L313.6,696.2 L313.8,696.1 L317.5,694.5 L317.7,694.4 L317.9,694.3 L318.2,694.3 L318.5,694.3 L318.7,694.3 L319,694.3 L319.2,694.4 L319.5,694.4 L319.8,694.5 L320,694.7 L320.3,694.8 L320.5,695 L320.8,695.2 L321,695.4 L321.2,695.6 L321.4,695.8 L321.6,696.1 L321.8,696.4 L322,696.6 L322.2,696.9 L322.4,697.2 L322.5,697.6 L322.6,697.9 L322.7,698.2 L322.8,698.6 L322.9,698.9 L322.9,699.2 L323,699.6 L323,699.9 L323,700.2 L323,700.6 L323,700.9 L322.9,701.2 L322.8,701.5 L322.7,701.8 L322.6,702.1 L322.5,702.4 L322.4,702.6 L322.2,702.8 L322.1,703.1 L321.9,703.3 L321.7,703.4 L321.5,703.6 L321.3,703.7 L321,703.8 L317.4,705.5 L317.1,705.6 L316.9,705.6 L316.7,705.7 L316.4,705.7 L316.1,705.7 L315.9,705.6 L315.6,705.6 L315.4,705.5 L315.1,705.4 L314.8,705.3 L314.6,705.2 L314.3,705 L314.1,704.8 L313.9,704.6 L313.6,704.4 L313.4,704.1 L313.2,703.9 L313,703.6 L312.8,703.3 L312.7,703 L312.5,702.7 L312.4,702.4 L312.2,702.1 L312.1,701.7 L312,701.4 L312,701.1 L311.9,700.7 L311.9,700.4 L311.8,700.1Z" fill="#111" stroke="#111" stroke-width="1" stroke-linejoin="round"/><ellipse cx="315.6" cy="700.8" rx="3.6" ry="5" transform="rotate(-18 315.6 700.8)" fill="#111" stroke="#111" stroke-width="1" /><ellipse cx="315.6" cy="700.8" rx="1.4" ry="2" transform="rotate(-18 315.6 700.8)" fill="#444" stroke="none" stroke-width="0" />
<line x1="293" y1="711" x2="301.5" y2="707.2" stroke="#111" stroke-width="2.6" stroke-linecap="round"/><line x1="293" y1="711" x2="301.5" y2="707.2" stroke="#fff" stroke-width="0.8"/><path d="M237.4,720.7 L237.4,719.6 L237.5,718.4 L237.7,717.3 L237.9,716.3 L238.2,715.4 L238.6,714.5 L239,713.6 L239.5,712.9 L240,712.2 L240.6,711.6 L241.2,711.1 L241.8,710.7 L242.5,710.4 L278.5,694.2 L279.3,693.9 L280,693.8 L280.8,693.7 L281.6,693.8 L282.5,693.9 L283.3,694.1 L284.2,694.4 L285.1,694.8 L286,695.3 L286.9,695.9 L287.7,696.5 L288.6,697.3 L289.5,698.1 L290.3,698.9 L291.1,699.9 L291.9,700.9 L292.7,702 L293.4,703.1 L294.1,704.2 L294.8,705.5 L295.4,706.7 L296,708 L296.5,709.3 L297,710.6 L297.4,711.9 L297.7,713.2 L298.1,714.5 L298.3,715.9 L298.5,717.2 L298.6,718.4 L298.7,719.7 L298.7,720.9 L298.6,722.1 L298.5,723.2 L298.3,724.3 L298.1,725.3 L297.8,726.3 L297.4,727.2 L297,728 L296.6,728.7 L296.1,729.4 L295.5,730 L294.9,730.5 L294.2,730.9 L293.5,731.3 L257.5,747.4 L256.8,747.7 L256,747.8 L255.2,747.9 L254.4,747.9 L253.6,747.7 L252.7,747.5 L251.8,747.2 L250.9,746.8 L250.1,746.3 L249.2,745.8 L248.3,745.1 L247.4,744.4 L246.6,743.6 L245.7,742.7 L244.9,741.7 L244.1,740.7 L243.4,739.7 L242.6,738.5 L241.9,737.4 L241.3,736.2 L240.6,734.9 L240.1,733.7 L239.5,732.4 L239.1,731.1 L238.7,729.7 L238.3,728.4 L238,727.1 L237.7,725.8 L237.5,724.5 L237.4,723.2 L237.4,721.9Z" fill="#fff" stroke="#111" stroke-width="1.2" stroke-linejoin="round"/><ellipse cx="250" cy="728.9" rx="11" ry="20" transform="rotate(-22 250 728.9)" fill="#fff" stroke="#111" stroke-width="1.2" /><path d="M295.2,730.3 L295.8,729.7 L296.3,729.1 L296.9,728.3 L297.3,727.5 L297.7,726.6 L298,725.6 L298.3,724.6 L298.5,723.5 L298.6,722.3 L298.7,721.1 L298.7,719.9 L298.6,718.6 L298.5,717.3 L298.3,715.9 L298.1,714.6 L297.7,713.2 L297.4,711.9 L296.9,710.5 L296.4,709.1 L295.9,707.8 L295.3,706.5 L294.7,705.2 L294,704 L293.2,702.8 L292.5,701.7 L291.7,700.6 L290.8,699.6 L290,698.6 L289.1,697.7 L288.2,696.9 L287.3,696.2 L286.4,695.6 L285.5,695 L284.6,694.6 L283.7,694.2 L282.8,694 L281.9,693.8 L281.1,693.7 L280.3,693.8 L279.5,693.9" fill="none" stroke="#111" stroke-width="2.3" stroke-linecap="round"/><path d="M293.7,729.5 L294.1,728.8 L294.5,728.1 L294.8,727.3 L295.1,726.5 L295.3,725.6 L295.5,724.7 L295.6,723.7 L295.7,722.7 L295.7,721.7 L295.7,720.6 L295.6,719.5 L295.5,718.4 L295.3,717.2 L295.1,716.1 L294.9,714.9 L294.6,713.7 L294.2,712.6 L293.8,711.4 L293.4,710.3 L292.9,709.1 L292.4,708 L291.9,706.9 L291.3,705.8 L290.7,704.8 L290.1,703.8 L289.4,702.8 L288.7,701.9 L288,701 L287.3,700.2 L286.6,699.4 L285.8,698.7 L285,698.1 L284.3,697.5 L283.5,697 L282.7,696.5 L282,696.2 L281.2,695.8 L280.5,695.6 L279.7,695.4 L279,695.4" fill="none" stroke="#111" stroke-width="1" stroke-linecap="round"/><path d="M264.2,744.2 L264.9,743.8 L265.5,743.3 L266,742.6 L266.5,741.9 L266.9,741.2 L267.3,740.3 L267.6,739.3 L267.8,738.3 L268,737.3 L268.2,736.2 L268.2,735 L268.2,733.8 L268.2,732.5 L268.1,731.2 L267.9,729.9 L267.6,728.6 L267.3,727.2 L266.9,725.9 L266.5,724.5 L266,723.2 L265.5,721.8 L264.9,720.5 L264.3,719.3 L263.7,718 L262.9,716.9 L262.2,715.7 L261.4,714.6 L260.6,713.6 L259.8,712.6 L258.9,711.7 L258.1,710.9 L257.2,710.2 L256.3,709.5 L255.5,709 L254.6,708.5 L253.7,708.1 L252.8,707.8 L252,707.6 L251.2,707.5 L250.4,707.5" fill="none" stroke="#111" stroke-width="1.9" stroke-linecap="round"/><path d="M226.3,730.3 L226.3,729.1 L226.4,728 L226.5,726.9 L226.6,725.9 L226.9,724.9 L227.1,724 L227.5,723.1 L227.8,722.3 L228.3,721.6 L228.7,720.9 L229.2,720.3 L229.8,719.8 L230.4,719.4 L231,719 L243.8,713.3 L244.4,713 L245.1,712.8 L245.8,712.7 L246.6,712.7 L247.3,712.8 L248.1,713 L248.8,713.2 L249.6,713.6 L250.4,714 L251.2,714.5 L252,715.1 L252.7,715.7 L253.5,716.5 L254.2,717.3 L255,718.1 L255.7,719 L256.3,720 L257,721 L257.6,722.1 L258.2,723.2 L258.7,724.4 L259.2,725.6 L259.6,726.8 L260.1,728 L260.4,729.2 L260.7,730.5 L261,731.7 L261.2,733 L261.3,734.2 L261.4,735.4 L261.5,736.6 L261.5,737.7 L261.4,738.9 L261.3,739.9 L261.1,741 L260.9,742 L260.6,742.9 L260.3,743.8 L259.9,744.6 L259.5,745.3 L259,746 L258.5,746.6 L258,747.1 L257.4,747.5 L256.8,747.9 L244,753.6 L243.3,753.9 L242.7,754 L241.9,754.1 L241.2,754.1 L240.5,754.1 L239.7,753.9 L238.9,753.6 L238.2,753.3 L237.4,752.9 L236.6,752.4 L235.8,751.8 L235,751.1 L234.3,750.4 L233.5,749.6 L232.8,748.8 L232.1,747.8 L231.4,746.9 L230.8,745.8 L230.2,744.8 L229.6,743.6 L229.1,742.5 L228.6,741.3 L228.1,740.1 L227.7,738.9 L227.4,737.6 L227,736.4 L226.8,735.1 L226.6,733.9 L226.4,732.7 L226.3,731.5Z" fill="#fff" stroke="#111" stroke-width="1.2" stroke-linejoin="round"/><ellipse cx="237.5" cy="736.3" rx="10.1" ry="18.5" transform="rotate(-18.4 237.5 736.3)" fill="#fff" stroke="#111" stroke-width="1.2" /><path d="M243.5,711 C244.5,708.8 249,708 252,709.5 C254,711 253.5,715 251,717.5 C248.5,719 245.5,718 244.5,716" fill="#fff" stroke="#111" stroke-width="1.3"/><ellipse cx="237.5" cy="736.3" rx="10.1" ry="18.5" transform="rotate(-18.4 237.5 736.3)" fill="#fff" stroke="#111" stroke-width="1.4" /><ellipse cx="234.8" cy="737.5" rx="4.8" ry="7.2" transform="rotate(-18.4 234.8 737.5)" fill="#fff" stroke="#111" stroke-width="1.4" /><ellipse cx="235.3" cy="737.2" rx="3.1" ry="4.8" transform="rotate(-18.4 235.3 737.2)" fill="none" stroke="#111" stroke-width="1" /><circle cx="234.3" cy="738.4" r="1.1" fill="#111"/><ellipse cx="231.2" cy="725.2" rx="2.3" ry="1.2" transform="rotate(-24 231.2 725.2)" fill="#111" stroke="#111" stroke-width="1.1"/><path d="M233,750 L229.5,753 C229,755 231,755.5 233,754.5 L236.5,752.5" fill="#fff" stroke="#111" stroke-width="1.3"/>
<g fill="none" stroke="#111" stroke-linejoin="round" stroke-linecap="round"><path d="M72.7,308.6 L74.6,298.8 L81.5,293 L93.2,287.1 L106.9,279.3 L124.5,274.4 L142,269.5 L157.7,265.6 L166.4,262.7 L169.4,264.6 L168.4,269.5 L161.6,273.4 L155.7,277.3 L153.75,289 L157.7,300.8 L165.5,308.6 L177.2,312.5 L184,313.5 L177.2,316.4 L173.3,324.2 L169.4,327.1 L161.6,327.1 L158.6,332 L155.7,341.8 L157.7,353.5 L161.6,359.4 L166.4,361.3 L161.6,365.2 L161.6,386.7 L161.6,437.5 L142,437.5 L134.2,429.7 L128.4,419.9 L110.8,418 L111.8,396.5 L116.6,367.2 L120.5,347.7 L118.6,341.8 L108.8,339.8 L93.2,335.9 L83.4,330.1 L75.6,322.3 L72.7,314.5 Z" fill="#fff" stroke-width="2.2"/><path d="M85.4,296.9 L104.9,289.1 L124.5,283.2 L147.9,275.4 L161.6,271.5" stroke-width="2.6"/><path d="M92,290 L99,285.2 L120,279 L140,273 L161.6,267.6" stroke-width="1.2"/><path d="M104,285 L118,281 M128,279.5 L146,274.5 M150,272 L160,269" stroke-width="2.4"/><path d="M108,288 l5,-1.5 M131,282 l4,-1 M158,268 l3,3 l4,-1" stroke-width="1.6"/><circle cx="112.7" cy="285.4" r="2.2" fill="#fff" stroke-width="1.3"/><path d="M158,266 L163,262.8 L167,262.8 L169.4,264.6 L168.4,269.5 L162,273.6 L157.5,276 L155,272 Z" fill="#151515" stroke-width="1.2"/><path d="M163.5,265.5 l3,0.5 M160,270 l3,-1.5" stroke="#fff" stroke-width="1.4"/><path d="M128,281.5 L144,277.5 L147,279 L146,286 L136,288.5 L128,289.5 Z" fill="#151515" stroke-width="1"/><path d="M130,284 L140,281.5 M132,287 l6,-1.2" stroke="#fff" stroke-width="1.3"/><path d="M151.5,277 L158.5,274.5 L157.5,284 L158.5,294 L160,302 L153,304 L152,293 Z" fill="#151515" stroke-width="1"/><path d="M154,281 l2,-0.5 M154.2,288 l2,-0.3 M154.5,295 l2,0 M155,300 l2.5,-0.3" stroke="#fff" stroke-width="1.4"/><path d="M83.4,296.9 C80,303 79.5,310 81.5,314.5 C83,322 85,327 89.3,332" stroke-width="2"/><path d="M91.25,295 C89,302 88.5,309 89.3,314.5 C91,320 94,325 99,328.1" stroke-width="2.2"/><path d="M73.7,312.5 L81.5,312.5 L81.5,322.3 L74.5,322.3" stroke-width="1.8"/><path d="M76.5,315 L80,315 L80,320 L76.5,320" stroke-width="1.2"/><path d="M101,294 C97.5,301 97,310 100.5,318" stroke-width="2.8"/><path d="M83,326 L93,322 L99,324 M90,332 L100,330" stroke-width="1.6"/><circle cx="92.2" cy="307.6" r="2.3" fill="#fff" stroke-width="1.4"/><path d="M103,294.9 L124.5,289" stroke-width="1.6"/><path d="M125,287 C123,294 123.5,303 126,310" stroke-width="2.4"/><path d="M134.5,284 C132.5,292 132.5,301 135,308.5 M141.5,282 C139.5,290 139.5,299 142,307" stroke-width="2"/><path d="M134.5,290 L141,288 M135,299 L141.5,297 M148,279 C146.5,287 146.5,297 149,305 M153.5,277 C152,285 152,296 154.5,304" stroke-width="1.8"/><path d="M156.5,276 C155,285 155.5,296 159,302 C162,306.5 168,309.5 176,311.5" stroke-width="1.3"/><path d="M159,274.5 C157.5,283 158.5,294 161.5,300 C164,304 170,307.5 179,310.5" stroke-width="1.1"/><path d="M149,285 l4,-1 M149,292 l4,-1 M149.5,299 l4,-1" stroke-width="1.8"/><path d="M103,314.5 L126.4,310.5 L151.8,308.6 L165,309" stroke-width="2.4"/><path d="M105,318.4 L130,314.5 L153.75,312.5 L170,313" stroke-width="1.6"/><path d="M106,316.4 L128,312.5 L152,310.6" stroke="#111" stroke-width="0.8"/><path d="M110,320.5 L134,316.5 L137,323 L128,330 L112,330.5 Z" fill="#1d1d1d" stroke-width="1.2"/><path d="M113,324 L124,322 M116,328 L126,326.5 M128,320.5 L134,319.5" stroke="#fff" stroke-width="1.3"/><path d="M150,313.5 L176.5,312.5 L176.1,323 L171.5,327.5 L161,327 L153,323 Z" fill="#1d1d1d" stroke-width="1.2"/><path d="M153,317 L163,315.5 M171,316 L175,315.5 M155,321 L160,320" stroke="#fff" stroke-width="1.4"/><circle cx="166.5" cy="321.3" r="2.6" fill="#fff" stroke-width="1.2"/><circle cx="166.5" cy="321.3" r="0.8" fill="#111" stroke="none"/><path d="M139.5,329.5 L151,328 L151.5,341 L140.5,341.5 Z" stroke-width="2"/><path d="M142,331 L149,330.5 L149,334 L142,334.5 Z" fill="#111" stroke-width="1"/><path d="M91,331 L110,332.5 L112,340 L100,340.5 L92,336 Z" fill="#1d1d1d" stroke-width="1.2"/><path d="M95,334 L103,335.5 M104,338 L109,338" stroke="#fff" stroke-width="1.6"/><path d="M95,333 L113,330 L124,332 L140,328 L160,323 L174,318" stroke-width="2"/><path d="M100,337 L117,334.5 L130,336 L146,332 L158,329" stroke-width="1.6"/><path d="M128,318 L131,326 M143,317 L146,325 L153,323.5 M118,338 L119,345 M129,337 L130,346" stroke-width="1.6"/><circle cx="122.5" cy="334.5" r="2.4" fill="#fff" stroke-width="1.3"/><circle cx="122.5" cy="334.5" r="0.7" fill="#111" stroke="none"/><path d="M124.5,349.6 C122,365 119,382 116.6,398.4 C116.5,405 117,411 118.6,416" stroke-width="2.4"/><path d="M122.5,349 C120,364 117,382 114.5,398 L114.2,416" stroke-width="1"/><path d="M128.4,345.7 L147.9,343.75 M128.8,348.5 L146.5,346.8" stroke-width="1.6"/><path d="M147.9,343.75 C145,350 141,357 138.1,363.3 L126.4,367.2 L124.5,375" stroke-width="2"/><path d="M146,353.5 L146,365.2 M146,356 L157.7,355.5 L166,361 M148,366 L160,366 M150,360 l5,0" stroke-width="1.8"/><path d="M126,352 l3,0 l0,4 l-3,0 Z M125,359 l3,0 l0,4 l-3,0 Z" fill="#111" stroke-width="1"/><path d="M128,372 L161,373.5" stroke-width="2.2"/><path d="M130.3,372.5 L130.3,416 M136.2,372.5 L136.2,416 M142,372.5 L142,436 M146,372.5 L146,436 M149.8,372.5 L149.8,436 M157.5,372.5 L157.5,436" stroke-width="1.6"/><path d="M133,378 L133,414 M139,378 L139,414" stroke-width="1.6" stroke="#333"/><path d="M143,374 L143,436 L145,436 L145,374 Z" fill="#111" stroke-width="0.8"/><path d="M128,386.7 L161,386.7 M128,400.4 L161,400.4 M128,416 L161,416 M146,426 L161,426" stroke-width="1.7"/><path d="M118,378 L128,376 M118,392 L127,391 M118,404 L127,405 M119,410 L128,411" stroke-width="1.6"/><path d="M130,420 L135,430 L141,436" stroke-width="1.5"/><circle cx="122.5" cy="402.5" r="2.3" fill="#fff" stroke-width="1.4"/><circle cx="122.5" cy="402.5" r="0.7" fill="#111" stroke="none"/><circle cx="156.6" cy="367.7" r="2.3" fill="#fff" stroke-width="1.4"/><circle cx="156.6" cy="367.7" r="0.7" fill="#111" stroke="none"/></g>
<g fill="none" stroke="#111" stroke-linejoin="round" stroke-linecap="round"><path d="M104.1,222.3 L106.6,220.1 L118.5,216.6 L120,213.8 C121,211 122.5,209.8 125,209.7 C128,209.8 131,210.5 133.5,211.3 L139.8,208.8 L145.4,209.4 L149.1,212.3 L148.8,216.6 L116.6,226.6 L105.4,224.8 Z" fill="#fff" stroke-width="2.1"/><path d="M117,222.6 L148.6,213.6 M117.3,224.8 L148.6,215.6" stroke-width="1.2"/><path d="M120.5,214.5 C124,212.5 128,213 131.5,216.5 M105,221 C110,221 114,222 116.6,225.5" stroke-width="1.6"/><path d="M131.5,213 L134,212 L135.5,217 L133,218 Z" fill="#111" stroke-width="1"/><path d="M134,212 L140,210" stroke-width="1.3"/><path d="M117.3,246 C122,244.5 127,242.8 131,242.6 C135,242.3 139,242.4 140.4,244.1 C139,245.5 135,245.5 132.5,247 L128.5,248.8" stroke-width="2"/><ellipse cx="118" cy="246" rx="2.2" ry="1.6" fill="#111" stroke="none"/><ellipse cx="129.3" cy="248.6" rx="2.3" ry="1.7" fill="#111" stroke="none"/><path d="M21.5,300.1 L34,293.8 L38.4,292.5 L53,291.3 L54.5,292.3 L55,299.6 L48.6,304.5 L49.1,306.5 L51.1,314.3 L50.1,316.2 L30.6,313.3 L23.7,313.3 L22.3,308.4 Z" fill="#fff" stroke-width="1.7"/><path d="M22.5,301 L25.5,300.5 L26.5,313 M25,301 l0.5,12 M35,294 L35.5,303 M27,301 l3,2 l18,3" stroke-width="1.4"/><path d="M39.3,299 L42,295.5 L49.6,294.6 L48.5,300 L41,302.6 Z" fill="#fff" stroke-width="1.6"/><path d="M31.5,306 L45,307.5 L46.5,311.5 L33,311 Z" fill="#fff" stroke-width="2"/><path d="M52.5,292 l0.5,7" stroke-width="2"/><path d="M197.5,320.9 L208.5,319.1 L215,320.9 L214.6,332.2 L211.2,333.9 L197.3,331.2 Z" fill="#fff" stroke-width="2.2"/><path d="M197.8,321.5 L204,324.5 L210.8,323.6 L214.5,321.2 M204,324.5 L205,333 M210.8,323.6 L211.2,333.5" stroke-width="1.8"/><path d="M199,325 L202.5,326 L203,331 L199,330.5 Z M207,320 L210.5,319.8 L209.5,322.5 L206.5,322.8 Z" fill="#111" stroke="none"/><rect x="205.8" y="326" width="3.6" height="3.6" fill="#fff" stroke-width="1.2"/><path d="M212.8,325 L212.8,331" stroke-width="1.1"/><path d="M205.5,331 L210.5,331.5" stroke-width="1.6"/><path d="M70.5,685.8 L71.7,684.4 L85.2,681.4 L108.6,686.1 L109.5,688.7 L108,691.7 L102.2,694.6 L102.5,699.9 L97.5,701 L94.6,699.6 L94,695.8 L71.1,691.1 Z" fill="#fff" stroke-width="1.6"/><path d="M71.7,684.6 L95.5,689.3 L108.6,686.1 M71,687.6 L95.7,691.1 M71.7,690 L95.1,693.4 M95.5,689.3 L95,696" stroke-width="1.2"/><path d="M95.7,689.3 L108,686.8 L108.5,690.5 L102.2,694.6 L96,696 Z" fill="#111" stroke-width="1"/><ellipse cx="99.5" cy="692" rx="1.8" ry="1.1" fill="#fff" stroke="none"/><ellipse cx="105" cy="690.5" rx="1" ry="1.2" fill="#fff" stroke="none"/><path d="M95.5,697 L101.5,696" stroke-width="1"/><path d="M71.3,739.3 L80.2,738.1 L81.4,766.6 L73.2,764.1 L72,752 Z" fill="#fff" stroke-width="1.8"/><ellipse cx="77.5" cy="744.5" rx="1.8" ry="2.6" fill="#fff" stroke-width="1.4"/><ellipse cx="74.5" cy="756.5" rx="1.6" ry="2.4" fill="#fff" stroke-width="1.4"/><circle cx="77.8" cy="762" r="1" fill="#111" stroke="none"/><path d="M71.5,748 l-1,2" stroke-width="1.6"/><path d="M80.2,736.2 L92.9,734.3 L94.1,733 L95.5,734.3 L103,735.5 L104.3,767.9 L82.7,767.9 L81.4,766.6 Z" fill="#fff" stroke-width="1.8"/><path d="M81.4,740 L103,738 M91.6,738.5 L91.8,743.5 L103.3,742.5" stroke-width="1.6"/><path d="M84,743 L84,750 M87,742.5 L87.5,750 L90,749.5 L90,743 M93,744 L93,749 L96,748.8 L96,744 M98.5,744 L98.5,748.5 L101.5,748.2 L101.5,743.5" stroke-width="1.7"/><path d="M83,751.5 L104,750.5" stroke-width="2"/><path d="M84.5,766 L84.8,754 L89,753.8 L89,764 L92,764 L92,754 L96,753.7 L96,764 L99,764 L99,753.6 L103.5,753.4" stroke-width="2.2"/><path d="M82.5,754 L82.7,767" stroke-width="1.4"/><path d="M104.3,742.5 L106.8,737.4 L114.4,734.3 L128.4,734.9 L127.8,738.1 C125,741 123.5,743 123.3,745 C122.5,748 122,752 122.1,755.2 C122.5,758 124,760.5 125.9,762.8 L124.6,766.6 L114.4,767.9 L106.8,765.4 Z" fill="#fff" stroke-width="1.9"/><path d="M105.6,745 C107,740 109.5,737 113.2,735.5" stroke-width="3"/><path d="M107,746 L108,765 M111,744 L112.5,766.5" stroke-width="1.5"/><path d="M106.8,750.1 L111.9,749.6 L112.2,757.7 L107.2,758 Z" fill="#fff" stroke-width="1.6"/><path d="M125.9,737.4 C123.5,742 122.5,748 122.7,755.2 C123,759 123.5,762 124.6,764.1" stroke-width="1.1"/><path d="M104.5,760 L106,760 M104.5,745 l2,0" stroke-width="1.5"/><path d="M18,768.7 C13,772 10,777 10.3,780.1 C11,784 14,786 16.7,786.5 C20,789 25,791 29.4,792.2 C36,793.6 42,793.6 45.9,794.1 C49,794.6 51.5,795.8 52.2,796.6 C53.4,798.5 54,800 54.1,801.7" stroke-width="1.1"/><path d="M19.5,769.8 C15,773 12,777 12.3,780 C13,783 15.5,784.8 18,785.3 C21,787.5 26,789.5 30,790.5 C36,791.8 42,791.8 46.5,792.4 C50,793 53,794.8 54,796 C55.5,798 56,800 56,801.7" stroke-width="1.1"/><path d="M16.5,766 L21.5,761.3 C23,760 25.5,760.5 25.5,762.5 C25.5,764 24.5,765 23,766.5 L19.5,769.5 C18,770.5 16,769.5 16.5,766 Z" fill="#fff" stroke-width="1.4"/><path d="M42.1,804.9 L58,802 L59.2,809.3 L43.4,812.5 Z" fill="#fff" stroke-width="1.6"/><path d="M44,806.5 l1,0 M56,804 l0.5,0" stroke-width="1.4"/><path d="M80.7,769 L80.4,770.6 L80.1,772.2 L79.9,773.8 L79.6,775.3 L79.3,776.9 L79,778.5 L78.8,780.1 L78.5,781.7 L78.3,783.2 L78,784.8 L77.8,786.4 L77.5,788 L77.3,789.5 L77.2,791.1 L77,792.7 L76.8,794.2 L76.7,795.8 L76.6,797.3 L76.5,798.9 L76.5,800.4 L76.5,802 L76.5,803.5 L76.6,805 L76.7,806.8 L76.6,808 L76.4,808.9 L76.2,809.8 L76,810.7 L75.7,811.6 L75.3,812.4 L74.9,813.2 L74.4,814 L73.9,814.8 L73.3,815.5 L72.7,816.2 L72,816.9 L71.2,817.5 L70.4,818.1 L69.6,818.7 L68.7,819.3 L67.7,819.8 L66.8,820.2 L65.7,820.7 L64.6,821.1 L63.5,821.5 L62.3,821.9 L61.1,822.3 L59.8,822.6 L59.2,822.8 L58.5,822.9 L57.9,823.1 L57.2,823.2 L56.5,823.3 L55.8,823.4 L55.1,823.4 L54.3,823.3 L53.6,823.2 L52.9,823 L52.1,822.7 L51.4,822.4 L50.7,821.9 L50.1,821.3 L49.6,820.7 L49.1,820 L48.7,819.3 L48.4,818.6 L48.1,817.8 L47.9,817 L47.7,816.1 L47.5,815.2 L47.4,814.2 L47.3,813.3" fill="none" stroke="#111" stroke-width="1.1" stroke-linejoin="round"/><path d="M79.1,768.8 L78.8,770.3 L78.6,771.9 L78.3,773.5 L78,775.1 L77.7,776.6 L77.5,778.2 L77.2,779.8 L76.9,781.4 L76.7,783 L76.4,784.6 L76.2,786.2 L76,787.8 L75.8,789.3 L75.6,790.9 L75.4,792.5 L75.2,794.1 L75.1,795.7 L75,797.3 L74.9,798.8 L74.9,800.4 L74.9,802 L74.9,803.5 L75,805.1 L75.1,806.8 L75,807.8 L74.9,808.6 L74.7,809.4 L74.5,810.2 L74.2,811 L73.9,811.7 L73.5,812.5 L73.1,813.2 L72.6,813.8 L72.1,814.5 L71.5,815.1 L70.9,815.7 L70.2,816.3 L69.5,816.8 L68.7,817.4 L67.9,817.9 L67,818.3 L66.1,818.8 L65.1,819.2 L64.1,819.6 L63,820 L61.8,820.4 L60.6,820.7 L59.4,821 L58.8,821.2 L58.2,821.4 L57.5,821.5 L56.9,821.6 L56.3,821.7 L55.7,821.8 L55.1,821.8 L54.5,821.7 L53.9,821.6 L53.3,821.5 L52.8,821.3 L52.2,821 L51.7,820.6 L51.3,820.2 L50.8,819.7 L50.5,819.2 L50.1,818.6 L49.8,818 L49.6,817.3 L49.4,816.6 L49.2,815.8 L49.1,815 L49,814.1 L48.9,813.1" fill="none" stroke="#111" stroke-width="1.1" stroke-linejoin="round"/><path d="M77.5,768.5 L77.2,770.1 L77,771.6 L76.7,773.2 L76.4,774.8 L76.2,776.4 L75.9,778 L75.6,779.5 L75.4,781.1 L75.1,782.7 L74.8,784.3 L74.6,785.9 L74.4,787.5 L74.2,789.1 L74,790.7 L73.8,792.4 L73.6,794 L73.5,795.6 L73.4,797.2 L73.4,798.8 L73.3,800.4 L73.3,802 L73.3,803.6 L73.4,805.2 L73.5,806.8 L73.4,807.6 L73.3,808.3 L73.1,809 L72.9,809.7 L72.7,810.4 L72.4,811 L72.1,811.7 L71.7,812.3 L71.3,812.9 L70.9,813.5 L70.4,814 L69.8,814.5 L69.2,815 L68.6,815.5 L67.9,816 L67.1,816.5 L66.3,816.9 L65.4,817.3 L64.5,817.7 L63.5,818.1 L62.5,818.5 L61.4,818.8 L60.2,819.2 L59,819.5 L58.4,819.7 L57.8,819.8 L57.2,820 L56.7,820.1 L56.1,820.1 L55.6,820.2 L55.1,820.2 L54.7,820.1 L54.2,820.1 L53.8,820 L53.4,819.8 L53.1,819.6 L52.7,819.4 L52.4,819.1 L52.1,818.7 L51.8,818.4 L51.6,817.9 L51.3,817.4 L51.1,816.8 L51,816.2 L50.8,815.5 L50.7,814.7 L50.6,813.9 L50.5,813" fill="none" stroke="#111" stroke-width="1.1" stroke-linejoin="round"/><path d="M75.9,768.2 L75.7,769.8 L75.4,771.4 L75.1,772.9 L74.9,774.5 L74.6,776.1 L74.3,777.7 L74,779.3 L73.8,780.9 L73.5,782.5 L73.3,784.1 L73,785.7 L72.8,787.3 L72.6,788.9 L72.4,790.6 L72.2,792.2 L72.1,793.8 L71.9,795.5 L71.8,797.1 L71.8,798.7 L71.7,800.4 L71.7,802 L71.7,803.6 L71.8,805.3 L71.9,806.8 L71.8,807.4 L71.7,808 L71.6,808.6 L71.4,809.2 L71.2,809.8 L71,810.4 L70.7,810.9 L70.4,811.4 L70,811.9 L69.7,812.4 L69.2,812.9 L68.7,813.3 L68.2,813.8 L67.6,814.2 L67,814.7 L66.3,815.1 L65.6,815.5 L64.7,815.9 L63.9,816.3 L63,816.6 L62,817 L60.9,817.3 L59.8,817.6 L58.6,818 L58,818.1 L57.4,818.3 L56.9,818.4 L56.4,818.5 L56,818.5 L55.6,818.6 L55.2,818.6 L54.9,818.6 L54.6,818.5 L54.3,818.4 L54.1,818.4 L53.9,818.3 L53.7,818.1 L53.5,818 L53.4,817.8 L53.2,817.5 L53,817.2 L52.8,816.8 L52.7,816.3 L52.5,815.8 L52.4,815.2 L52.3,814.5 L52.2,813.7 L52.1,812.9" fill="none" stroke="#111" stroke-width="1.1" stroke-linejoin="round"/><path d="M74.3,768 L74.1,769.5 L73.8,771.1 L73.6,772.7 L73.3,774.2 L73,775.8 L72.7,777.4 L72.5,779 L72.2,780.6 L71.9,782.2 L71.7,783.8 L71.4,785.5 L71.2,787.1 L71,788.7 L70.8,790.4 L70.6,792 L70.5,793.7 L70.3,795.3 L70.2,797 L70.2,798.7 L70.1,800.3 L70.1,802 L70.1,803.7 L70.2,805.4 L70.3,806.8 L70.2,807.1 L70.2,807.7 L70,808.2 L69.9,808.8 L69.7,809.2 L69.5,809.7 L69.3,810.1 L69.1,810.6 L68.8,811 L68.4,811.4 L68.1,811.8 L67.7,812.2 L67.2,812.6 L66.7,812.9 L66.1,813.3 L65.5,813.7 L64.8,814.1 L64.1,814.4 L63.3,814.8 L62.4,815.1 L61.4,815.5 L60.4,815.8 L59.4,816.1 L58.2,816.4 L57.5,816.6 L57,816.7 L56.6,816.8 L56.2,816.9 L55.8,817 L55.5,817 L55.2,817 L55,817 L54.9,816.9 L54.8,816.9 L54.8,816.9 L54.7,816.9 L54.7,816.9 L54.7,816.8 L54.6,816.8 L54.5,816.7 L54.4,816.5 L54.3,816.2 L54.2,815.9 L54.1,815.4 L53.9,814.9 L53.8,814.3 L53.8,813.6 L53.7,812.7" fill="none" stroke="#111" stroke-width="1.1" stroke-linejoin="round"/><path d="M78.9,778.9 L79,779.4 L79.2,779.9 L79.4,780.4 L79.5,780.9 L79.7,781.4 L79.9,781.9 L80.1,782.4 L80.3,782.9 L80.5,783.4 L80.8,783.9 L81,784.4 L81.3,784.9 L81.5,785.4 L81.8,785.9 L82.1,786.3 L82.4,786.8 L82.7,787.2 L83,787.7 L83.4,788.2 L83.7,788.6 L84.1,789 L84.4,789.5 L84.8,789.9 L85.2,790.3 L85.9,791 L86.7,791.7 L87.4,792.4 L88.2,793 L89,793.7 L89.7,794.3 L90.5,794.9 L91.3,795.5 L92.1,796.1 L92.8,796.7 L93.6,797.2 L94.4,797.8 L95.2,798.4 L95.9,798.9 L96.7,799.5 L97.5,800 L98.2,800.5 L98.9,801.1 L99.6,801.6 L100.3,802.1 L101,802.6 L101.7,803.2 L102.4,803.7 L103,804.2 L103.1,804.3 L103.1,804.4 L103.2,804.5 L103.2,804.6 L103.3,804.7 L103.4,804.8 L103.4,804.9 L103.5,805.1 L103.6,805.2 L103.6,805.3 L103.7,805.4 L103.7,805.5 L103.8,805.6 L103.8,805.7 L103.9,805.8 L103.9,805.9 L104,806.1 L104,806.2 L104.1,806.3 L104.1,806.4 L104.2,806.5 L104.2,806.6 L104.3,806.7 L104.3,806.8" fill="none" stroke="#111" stroke-width="1.3" stroke-linejoin="round"/><path d="M80.2,782.7 L80.7,783.1 L81.2,783.5 L81.7,783.9 L82.2,784.3 L82.7,784.7 L83.3,785 L83.8,785.4 L84.4,785.7 L85,786.1 L85.6,786.4 L86.2,786.7 L86.8,787.1 L87.5,787.4 L88.1,787.7 L88.8,788 L89.5,788.3 L90.2,788.5 L90.9,788.8 L91.6,789.1 L92.3,789.3 L93.1,789.6 L93.8,789.8 L94.6,790.1 L95.4,790.3 L96.3,790.6 L97.3,790.8 L98.2,791.1 L99.1,791.3 L100,791.5 L100.9,791.7 L101.8,791.9 L102.7,792.1 L103.5,792.2 L104.4,792.4 L105.2,792.6 L106,792.8 L106.7,793 L107.5,793.1 L108.2,793.3 L108.9,793.5 L109.5,793.7 L110.1,793.9 L110.7,794.1 L111.3,794.3 L111.8,794.6 L112.3,794.8 L112.8,795.1 L113.2,795.4 L113.4,795.7 L113.6,796.1 L113.8,796.4 L114,796.8 L114.2,797.2 L114.3,797.6 L114.5,798 L114.6,798.4 L114.7,798.8 L114.8,799.2 L115,799.7 L115.1,800.1 L115.1,800.6 L115.2,801 L115.3,801.5 L115.4,801.9 L115.4,802.4 L115.5,802.8 L115.5,803.3 L115.6,803.7 L115.6,804.2 L115.6,804.6 L115.7,805.1 L115.7,805.5" fill="none" stroke="#111" stroke-width="1.3" stroke-linejoin="round"/><path d="M92.9,770 L93.2,770.6 L93.4,771.2 L93.7,771.8 L93.9,772.4 L94.2,773 L94.5,773.6 L94.8,774.1 L95,774.6 L95.3,775.2 L95.6,775.7 L95.9,776.2 L96.2,776.7 L96.5,777.1 L96.8,777.6 L97.1,778.1 L97.4,778.5 L97.8,778.9 L98.1,779.3 L98.5,779.7 L98.9,780.1 L99.3,780.4 L99.7,780.8 L100.1,781.1 L100.5,781.4 L101.2,781.8 L101.9,782.2 L102.6,782.6 L103.4,783 L104.1,783.3 L104.9,783.7 L105.6,784 L106.4,784.3 L107.2,784.5 L107.9,784.8 L108.7,785 L109.5,785.3 L110.2,785.5 L111,785.7 L111.8,785.9 L112.6,786.1 L113.3,786.3 L114.1,786.5 L114.8,786.7 L115.5,786.9 L116.2,787.1 L116.9,787.3 L117.6,787.5 L118.3,787.7 L119,788 L119.7,788.3 L120.4,788.6 L121,788.9 L121.6,789.2 L122.2,789.6 L122.8,789.9 L123.4,790.2 L123.9,790.6 L124.4,790.9 L124.9,791.3 L125.3,791.7 L125.8,792 L126.2,792.4 L126.5,792.8 L126.9,793.2 L127.2,793.6 L127.5,794 L127.7,794.4 L127.9,794.9 L128.1,795.3 L128.2,795.7 L128.3,796.2 L128.4,796.6 L128.4,797 L128.4,797.4 L128.4,797.9 L128.4,798.3 L128.4,798.7 L128.3,799.1 L128.3,799.5 L128.2,799.9 L128.2,800.3 L128.1,800.6 L128,801 L128,801.4 L127.9,801.8 L127.8,802.1 L127.7,802.5 L127.7,802.8 L127.6,803.2 L127.5,803.5 L127.4,803.9 L127.3,804.2 L127.3,804.5 L127.2,804.9 L127.2,805.2 L127.1,805.5 L127,805.7 L126.8,806 L126.6,806.2 L126.5,806.4 L126.3,806.6 L126.1,806.8 L125.9,807 L125.7,807.2 L125.5,807.4 L125.3,807.5 L125.1,807.7 L124.9,807.9 L124.7,808 L124.5,808.1 L124.2,808.3 L124,808.4 L123.8,808.5 L123.5,808.6 L123.3,808.8 L123.1,808.9 L122.8,809 L122.6,809.1 L122.3,809.2 L122.1,809.3" fill="none" stroke="#111" stroke-width="1.3" stroke-linejoin="round"/><path d="M96.7,810.6 L125.9,811.9 L125.5,815.7 L97,814.8 Z" fill="#fff" stroke-width="1.6"/><path d="M101.8,815.5 L102,820.7 L104.5,821 L104.3,815.6 Z M111.8,815.6 L112,823.3 L114.6,823.3 L114.4,815.7 Z M103,806 L103.2,810.6 L105.6,810.7 L105.5,806 Z M114.4,804.9 L114.6,810.9 L117,811 L116.8,805 Z" fill="#fff" stroke-width="1.3"/><path d="M123.5,811.9 L124.5,818.2 L126,817" stroke-width="1.4"/><path d="M79,766.5 l-2,2.5 M92.9,768 l0,2.5" stroke-width="2.5"/><path d="M781,673.5 C782,671.5 786,671.3 789,672 C791,673 791,676 789,677.3 C786,678 783,676.5 781,673.5 Z" fill="#111" stroke-width="1"/><path d="M786.8,677 L786.8,679.5" stroke-width="2"/><path d="M759.3,718 L765.5,716.8 L770.5,719.3 L768,721.8 L763,723 L759.5,721 Z" fill="#fff" stroke-width="1.2"/><path d="M763,717.5 l2,3 M766,717 l2,3" stroke-width="1"/><path d="M705,834 L710.5,833.8 L710.6,852.4 L705.2,852.4 Z" fill="#fff" stroke-width="1.7"/><path d="M706.5,840.5 L709.2,840.5 L709.2,846.5 L706.5,846.5 Z" fill="#111" stroke-width="0.8"/><path d="M706,837 l4,0 M706,849.5 l4,0" stroke-width="1.2"/></g>
<g fill="none" stroke="#111" stroke-linejoin="round" stroke-linecap="round"><path d="M640.8,689.3 L642,677.9 L646.5,674.1 L655.4,669 L663,663.9 L668.1,661.4 L683.3,655.7 L690.9,658.2 L702.4,653.8 L703.6,648.7 L711.3,645.5 L718.9,646.8 L726.5,643.6 L734.1,644.9 L741.7,651.2 L746.8,661.4 L749.3,674.1 L748.7,686.8 L746.8,691.9 L744.9,695.7 L741.7,699.5 L741.7,707.1 L739.2,712.2 L731.6,716 L729,722.3 L728.6,730 L729.2,735.5 L729.8,741.9 L724.1,749.5 L724.1,776.2 L723.5,821.9 L720.9,823.1 L717.1,820.6 L715.9,810.4 L713.3,807.3 L674,801.6 L674,800.3 L676.5,776.2 L680.3,750.8 L681.5,735 L680.8,730 L678.2,723.6 L671.9,721.1 L660.5,722.3 L652.9,721.1 L646.5,717.2 L642.7,707.1 L641,698 Z" fill="#fff" stroke-width="2"/><path d="M703,652.5 L703,648.7 L718.9,646.2 L721.4,653.8" stroke-width="1.6"/><path d="M704,649 C705,651 705,653 703.5,654" stroke-width="1.3"/><path d="M660.5,684.2 L700,669 L726.5,655" stroke-width="3"/><path d="M663,686.8 L700,673.5 L731.6,662.7" stroke-width="1.8"/><path d="M668,663 L686,657 M690,660 L722,650 M722,650 L726.5,655" stroke-width="1.2"/><path d="M652,672 L660,667.5 L676,663.5 L676.5,668 L663,680 L656,684 Z" fill="#fff" stroke-width="1.4"/><path d="M656.0,680.0 L662.0,667.0" stroke-width="1.3"/><path d="M659.2,679.5 L665.2,666.4" stroke-width="1.3"/><path d="M662.4,679.0 L668.4,665.8" stroke-width="1.3"/><path d="M665.6,678.5 L671.6,665.2" stroke-width="1.3"/><path d="M668.8,678.0 L674.8,664.6" stroke-width="1.3"/><path d="M672.0,677.5 L678.0,664.0" stroke-width="1.3"/><path d="M665,677 L674,668 M668,679 L676.5,670" stroke-width="2.2"/><ellipse cx="678.9" cy="666.5" rx="2.8" ry="3.3" fill="#fff" stroke-width="1.4"/><path d="M681.5,666 L700,660" stroke-width="1.2"/><ellipse cx="731.6" cy="651.3" rx="2.8" ry="3.5" fill="#fff" stroke-width="2"/><path d="M684.6,683 L731.6,664 L736.6,669 L739.2,686.8 L735.4,690.6 L688.4,700.7" stroke-width="1.6"/><path d="M710,672.5 l7,-2.5 M714,691.5 l7,-2" stroke-width="2.4"/><path d="M730.3,661.4 L737.9,659.5 L743,665.2 L744.3,677.9 L741.7,689.3 L736.6,691.9" stroke-width="1.6"/><path d="M737.9,659.5 L742,653 M743,665.2 L748,664 M744.3,677.9 L749,677 M741.7,689.3 L747,688" stroke-width="1.2"/><path d="M687.1,703.3 L745.5,690.6" stroke-width="2.6"/><path d="M661.7,712.2 L700,703.5 L746.8,695.7" stroke-width="1.8"/><path d="M664.3,717.2 L700,710 L741.7,704.6" stroke-width="1.4"/><path d="M642.7,695.7 L649,695.7 L649,703.3 L642.7,703.3" stroke-width="1.8"/><path d="M640.8,689.3 L657.9,691.9 M642.7,708.4 L657.9,709" stroke-width="1.6"/><path d="M644,679.2 C648,681 651,684 652.9,686.8 M649,677.9 C654,681 658,684 659.2,688 C661,694 662,700 663,707.1" stroke-width="1.6"/><path d="M646.5,674.1 C652,676 657,680 660.5,684.2" stroke-width="1.3"/><path d="M646,712 C650,716 655,719 662,720" stroke-width="1.2"/><path d="M659,688 L686,682 L688.4,700.7 L662,707 Z" fill="#fff" stroke-width="1.4"/><path d="M665.5,686.9 L666.1,704.79" stroke-width="1.7"/><path d="M670.6,685.88 L671.2,703.668" stroke-width="1.7"/><path d="M674.4,685.12 L675.0,702.832" stroke-width="1.7"/><path d="M678.2,684.36 L678.8000000000001,701.996" stroke-width="1.7"/><path d="M680.8,683.84 L681.4,701.424" stroke-width="1.7"/><path d="M683.3,683.34 L683.9,700.874" stroke-width="1.7"/><path d="M685.9,682.82 L686.5,700.302" stroke-width="1.7"/><path d="M666.5,691 l3.5,-0.7 l0.4,10 l-3.5,0.7 Z M676,689 l3,-0.6 l0.4,10 l-3,0.6 Z" fill="#111" stroke-width="1"/><ellipse cx="659.5" cy="694" rx="1.6" ry="2.6" fill="#fff" stroke-width="1.3"/><ellipse cx="718.9" cy="707.7" rx="3.6" ry="2.8" fill="#fff" stroke-width="1.6"/><ellipse cx="724.6" cy="705.2" rx="2.4" ry="2.6" fill="#fff" stroke-width="1.4"/><ellipse cx="731.6" cy="703.3" rx="2.2" ry="2.7" fill="#fff" stroke-width="1.3"/><path d="M667,719 L676,715 L685,713.4 L691,712.2 M672,718 l3,-2" stroke-width="1.5"/><path d="M684.6,713.4 C686,715 687,717 686.5,719" stroke-width="1.6"/><path d="M682.9,720.3 L720.9,719 L713.3,741.9 L709.5,748.2 C706,765 704.4,778.7 700,788 C697,792 690,796 674,797.8" stroke-width="1.7"/><path d="M684,722.5 L718,721.5" stroke-width="1.1"/><path d="M687.3,748.2 C696,746 704,744 710.8,741.9 L717,722" stroke-width="1.4"/><path d="M715.9,752 L722.2,748.2 L722.6,812 M715.9,752 L711.4,781.2 L722.2,809.8" stroke-width="2.1"/><path d="M718.6,755.5 L718,768.5 L722.4,772.5 M716.5,776 L722.4,772.5 M714.2,781.5 L721.5,800 M716,778 L715,781" stroke-width="1.5"/><path d="M717,812 L719.5,821" stroke-width="1.2"/><ellipse cx="689.8" cy="784.4" rx="6" ry="3.6" fill="#fff" stroke-width="1.7"/><path d="M683,730 C684,728 686,728 687,730" stroke-width="1"/></g>
<g fill="none" stroke="#111" stroke-linejoin="round" stroke-linecap="round"><path d="M887.3,750.5 L896.7,748 L897.6,746 L925.8,745.3 L930.4,748 L931.4,752.8 L930.4,790.3 L888.3,787.4 Z" fill="#fff" stroke-width="1.7"/><path d="M889,752 L897,750 L923,750.5 L927,748 M897.5,746.5 L898,750" stroke-width="1.4"/><path d="M898.5,749 L924.5,748.5 M900,747.5 l3,0 l0,2 M906,747.3 l2,0 l0,2.2 M912,747.2 l4,0" stroke-width="1.3"/><path d="M901.4,754.6 L900.8,790 M922,752.8 L921.5,790.3 M927.5,750 L927,790" stroke-width="1.3"/><path d="M914.5,758.4 L920,758.4 L920,764 L914.5,764 Z M916,753 L920,753 L920,758" stroke-width="1.3"/><path d="M879.8,787.4 L912.6,794 L929,796.5 L931,801 L934.2,803 L935.1,809 L935.1,824 L929.5,831.5 L907,834.3 L886.4,831.5 L880.8,825.9 Z" fill="#fff" stroke-width="1.8"/><path d="M912.6,794 L913.6,816.5 L917.3,823 L934.2,820.3 M913.6,816.5 L934,812" stroke-width="1.4"/><path d="M879.8,812.8 L913.6,816.5 M881,815 L913,818.5" stroke-width="1.4"/><path d="M882.6,827.8 C895,832 915,832.5 933.3,828" stroke-width="2.6"/><path d="M884,790 L885,829" stroke-width="1"/><path d="M913.5,796 L929,798 L931,813.5 L914.5,815.5 Z" fill="#fff" stroke-width="1.6"/><rect x="916.5" y="799.9" width="12.5" height="3.2" rx="1.6" fill="#fff" stroke-width="1.7"/><rect x="916.5" y="805.0" width="12.5" height="3.2" rx="1.6" fill="#fff" stroke-width="1.7"/><rect x="916.5" y="810.1999999999999" width="12.5" height="3.2" rx="1.6" fill="#fff" stroke-width="1.7"/><path d="M929.5,789 L931,792 L929,795 Z" fill="#111" stroke-width="1"/></g>
<clipPath id="th0"><ellipse cx="296.3" cy="480.2" rx="9.3" ry="19.3" transform="rotate(-17 296.3 480.2)"/></clipPath><path d="M779,262 L255.5,498" clip-path="url(#th0)" fill="none" stroke="#1a1a1a" stroke-width="1.3" stroke-dasharray="10.8 1.5 1.8 2"/><clipPath id="th1"><ellipse cx="433.5" cy="418" rx="7.4" ry="17" transform="rotate(-22 433.5 418)"/></clipPath><path d="M779,262 L255.5,498" clip-path="url(#th1)" fill="none" stroke="#1a1a1a" stroke-width="1.3" stroke-dasharray="10.8 1.5 1.8 2"/><clipPath id="th2"><ellipse cx="512.7" cy="382.6" rx="7.6" ry="16.8" transform="rotate(-18 512.7 382.6)"/></clipPath><path d="M779,262 L255.5,498" clip-path="url(#th2)" fill="none" stroke="#1a1a1a" stroke-width="1.3" stroke-dasharray="10.8 1.5 1.8 2"/><clipPath id="th3"><ellipse cx="550" cy="364" rx="6.8" ry="16.2" transform="rotate(-18 550 364)"/></clipPath><path d="M779,262 L255.5,498" clip-path="url(#th3)" fill="none" stroke="#1a1a1a" stroke-width="1.3" stroke-dasharray="10.8 1.5 1.8 2"/><clipPath id="th4"><ellipse cx="589.2" cy="347.3" rx="11.6" ry="22.4" transform="rotate(-19 589.2 347.3)"/></clipPath><path d="M779,262 L255.5,498" clip-path="url(#th4)" fill="none" stroke="#1a1a1a" stroke-width="1.3" stroke-dasharray="10.8 1.5 1.8 2"/><clipPath id="th5"><ellipse cx="643" cy="323.6" rx="4" ry="7.8" transform="rotate(-21 643 323.6)"/></clipPath><path d="M779,262 L255.5,498" clip-path="url(#th5)" fill="none" stroke="#1a1a1a" stroke-width="1.3" stroke-dasharray="10.8 1.5 1.8 2"/><clipPath id="th6"><ellipse cx="719.6" cy="289" rx="4.4" ry="7.8" transform="rotate(-22 719.6 289)"/></clipPath><path d="M779,262 L255.5,498" clip-path="url(#th6)" fill="none" stroke="#1a1a1a" stroke-width="1.3" stroke-dasharray="10.8 1.5 1.8 2"/><clipPath id="th7"><ellipse cx="864" cy="453.4" rx="2.4" ry="4.8" transform="rotate(-20 864 453.4)"/></clipPath><path d="M916.5,430 L296,708" clip-path="url(#th7)" fill="none" stroke="#1a1a1a" stroke-width="1.3" stroke-dasharray="10.8 1.5 1.8 2"/><clipPath id="th8"><ellipse cx="837" cy="466.8" rx="4.4" ry="8.2" transform="rotate(-20 837 466.8)"/></clipPath><path d="M916.5,430 L296,708" clip-path="url(#th8)" fill="none" stroke="#1a1a1a" stroke-width="1.3" stroke-dasharray="10.8 1.5 1.8 2"/><clipPath id="th9"><ellipse cx="704.5" cy="525.3" rx="5.4" ry="12.3" transform="rotate(-16 704.5 525.3)"/></clipPath><path d="M916.5,430 L296,708" clip-path="url(#th9)" fill="none" stroke="#1a1a1a" stroke-width="1.3" stroke-dasharray="10.8 1.5 1.8 2"/><clipPath id="th10"><ellipse cx="622" cy="561.7" rx="7.2" ry="16" transform="rotate(-23 622 561.7)"/></clipPath><path d="M916.5,430 L296,708" clip-path="url(#th10)" fill="none" stroke="#1a1a1a" stroke-width="1.3" stroke-dasharray="10.8 1.5 1.8 2"/><clipPath id="th11"><ellipse cx="426.5" cy="650.8" rx="5.6" ry="12.6" transform="rotate(-20 426.5 650.8)"/></clipPath><path d="M916.5,430 L296,708" clip-path="url(#th11)" fill="none" stroke="#1a1a1a" stroke-width="1.3" stroke-dasharray="10.8 1.5 1.8 2"/><clipPath id="th12"><ellipse cx="397.4" cy="664.5" rx="3.6" ry="7" transform="rotate(-22 397.4 664.5)"/></clipPath><path d="M916.5,430 L296,708" clip-path="url(#th12)" fill="none" stroke="#1a1a1a" stroke-width="1.3" stroke-dasharray="10.8 1.5 1.8 2"/><clipPath id="th13"><ellipse cx="457.5" cy="637.4" rx="4.1" ry="11.3" transform="rotate(-17 457.5 637.4)"/></clipPath><path d="M916.5,430 L296,708" clip-path="url(#th13)" fill="none" stroke="#1a1a1a" stroke-width="1.3" stroke-dasharray="10.8 1.5 1.8 2"/>
<clipPath id="th20"><ellipse cx="648.4" cy="551.2" rx="3.1" ry="6" transform="rotate(-18 648.4 551.2)"/></clipPath><path d="M916.5,430 L296,708" clip-path="url(#th20)" fill="none" stroke="#1a1a1a" stroke-width="1.3"/>
<g stroke="#1a1a1a" stroke-width="1.3" fill="none">
<line x1="788.5" y1="195" x2="788.5" y2="253"/>
<line x1="734.5" y1="219.25" x2="734.5" y2="270"/>
<line x1="684.5" y1="241.25" x2="684.5" y2="291"/>
<line x1="641.5" y1="261.25" x2="641.5" y2="307.5"/>
<line x1="589.5" y1="284.25" x2="589.5" y2="327.5"/>
<line x1="544.5" y1="304.5" x2="544.5" y2="345"/>
<line x1="505.5" y1="322" x2="505.5" y2="360"/>
<line x1="463.5" y1="341" x2="463.5" y2="386"/>
<line x1="424.75" y1="358.5" x2="424.75" y2="399.75"/>
<line x1="388" y1="375.5" x2="388" y2="428.5"/>
<line x1="350.25" y1="392.25" x2="350.25" y2="446"/>
<line x1="307.25" y1="411" x2="307.25" y2="456"/>
<line x1="865.25" y1="372.5" x2="865.25" y2="442.5"/>
<line x1="834.25" y1="386.5" x2="834.25" y2="452"/>
<line x1="809.25" y1="397.75" x2="809.25" y2="469.5"/>
<line x1="778" y1="411.5" x2="778" y2="478.25"/>
<line x1="738.5" y1="429.75" x2="738.5" y2="492.5"/>
<line x1="701.25" y1="446.5" x2="701.25" y2="507.5"/>
<line x1="671.25" y1="460" x2="671.25" y2="524.4"/>
<line x1="640.75" y1="473.75" x2="640.75" y2="535"/>
<line x1="612.5" y1="486.25" x2="612.5" y2="545"/>
<line x1="589.25" y1="497" x2="589.25" y2="566.25"/>
<line x1="568" y1="506.25" x2="568" y2="572.5"/>
<line x1="539.25" y1="519.5" x2="539.25" y2="586.25"/>
<line x1="513.5" y1="531.25" x2="513.5" y2="595"/>
<line x1="479.4" y1="546.25" x2="479.4" y2="602.5"/>
<line x1="450.6" y1="559.4" x2="450.6" y2="620.6"/>
<line x1="419" y1="573.5" x2="419" y2="634"/>
<line x1="392" y1="586.25" x2="392" y2="647.5"/>
<line x1="347.5" y1="606.25" x2="347.5" y2="668.75"/>
<line x1="317.5" y1="619.25" x2="317.5" y2="695"/>
<line x1="275.75" y1="638.75" x2="275.75" y2="700"/>
<line x1="146.5" y1="209.4" x2="197" y2="189.5"/>
<line x1="141" y1="243" x2="197" y2="223.3"/>
<line x1="163" y1="275" x2="197" y2="264"/>
<line x1="38.5" y1="224.7" x2="38.5" y2="292.8"/>
<line x1="207.8" y1="333.9" x2="207.8" y2="392"/>
<line x1="109.5" y1="688.75" x2="187.5" y2="688.75"/>
<line x1="117.5" y1="749.5" x2="187.5" y2="749.5"/>
<line x1="125" y1="815" x2="187.5" y2="815"/>
<line x1="787" y1="676" x2="787" y2="732.5"/>
<line x1="758.5" y1="720" x2="758.5" y2="782.5"/>
<line x1="710.5" y1="843.75" x2="766.75" y2="843.75"/>
<line x1="908.9" y1="789.3" x2="991" y2="789.3"/>
</g>
<g>
<text font-size="28.50" transform="translate(781.49,185.00) scale(0.7032,1)">1</text>
<text font-size="28.50" transform="translate(729.19,206.25) scale(0.7032,1)">2</text>
<text font-size="28.50" transform="translate(676.39,228.47) scale(0.7032,1)">3</text>
<text font-size="28.85" transform="translate(635.74,248.75) scale(0.6947,1)">4</text>
<text font-size="28.50" transform="translate(582.59,275.96) scale(0.7032,1)">5</text>
<text font-size="28.50" transform="translate(540.99,298.46) scale(0.7032,1)">6</text>
<text font-size="29.62" transform="translate(500.09,314.75) scale(0.6767,1)">7</text>
<text font-size="28.50" transform="translate(457.49,331.71) scale(0.7032,1)">8</text>
<text font-size="28.50" transform="translate(418.49,350.71) scale(0.7032,1)">9</text>
<text font-size="29.10" transform="translate(376.48,370.21) scale(0.6886,1)">10</text>
<text font-size="30.00" transform="translate(337.63,385.50) scale(0.6680,1)">11</text>
<text font-size="30.38" transform="translate(296.73,399.75) scale(0.6595,1)">12</text>
<text font-size="28.50" transform="translate(854.98,360.46) scale(0.7032,1)">13</text>
<text font-size="30.00" transform="translate(819.98,377.00) scale(0.6680,1)">14</text>
<text font-size="29.55" transform="translate(794.73,388.70) scale(0.6783,1)">15</text>
<text font-size="28.73" transform="translate(764.98,402.96) scale(0.6975,1)">16</text>
<text font-size="29.23" transform="translate(728.08,421.00) scale(0.6856,1)">17</text>
<text font-size="30.22" transform="translate(688.08,436.95) scale(0.6631,1)">18</text>
<text font-size="29.85" transform="translate(659.98,449.70) scale(0.6713,1)">19</text>
<text font-size="28.73" transform="translate(628.98,465.96) scale(0.6975,1)">20</text>
<text font-size="29.23" transform="translate(603.38,477.00) scale(0.6856,1)">21</text>
<text font-size="29.62" transform="translate(578.98,488.00) scale(0.6767,1)">22</text>
<text font-size="29.10" transform="translate(556.98,499.21) scale(0.6886,1)">23</text>
<text font-size="29.62" transform="translate(524.48,511.25) scale(0.6767,1)">24</text>
<text font-size="29.92" transform="translate(497.98,522.45) scale(0.6697,1)">25</text>
<text font-size="29.48" transform="translate(468.88,535.71) scale(0.6798,1)">26</text>
<text font-size="30.77" transform="translate(437.18,550.00) scale(0.6513,1)">27</text>
<text font-size="29.33" transform="translate(407.28,564.96) scale(0.6833,1)">28</text>
<text font-size="28.50" transform="translate(379.48,579.72) scale(0.7032,1)">29</text>
<text font-size="29.10" transform="translate(335.73,597.21) scale(0.6886,1)">30</text>
<text font-size="29.48" transform="translate(303.73,613.96) scale(0.6798,1)">31</text>
<text font-size="28.73" transform="translate(265.73,630.21) scale(0.6975,1)">32</text>
<text font-size="30.45" transform="translate(197.88,197.10) scale(0.6582,1)">33</text>
<text font-size="29.70" transform="translate(198.98,230.40) scale(0.6747,1)">34</text>
<text font-size="30.45" transform="translate(198.48,270.70) scale(0.6582,1)">35</text>
<text font-size="29.10" transform="translate(27.98,220.71) scale(0.6886,1)">36</text>
<text font-size="29.10" transform="translate(196.48,418.21) scale(0.6886,1)">37</text>
<text font-size="29.85" transform="translate(189.98,698.45) scale(0.6713,1)">38</text>
<text font-size="29.10" transform="translate(187.48,759.21) scale(0.6886,1)">39</text>
<text font-size="29.85" transform="translate(188.98,824.20) scale(0.6713,1)">40</text>
<text font-size="29.62" transform="translate(777.98,756.75) scale(0.6767,1)">41</text>
<text font-size="30.00" transform="translate(778.38,855.50) scale(0.6680,1)">42</text>
<text font-size="28.73" transform="translate(748.38,808.96) scale(0.6975,1)">43</text>
<text font-size="30.38" transform="translate(997.58,797.75) scale(0.6595,1)">44</text>
</g>
</svg></body></html>
